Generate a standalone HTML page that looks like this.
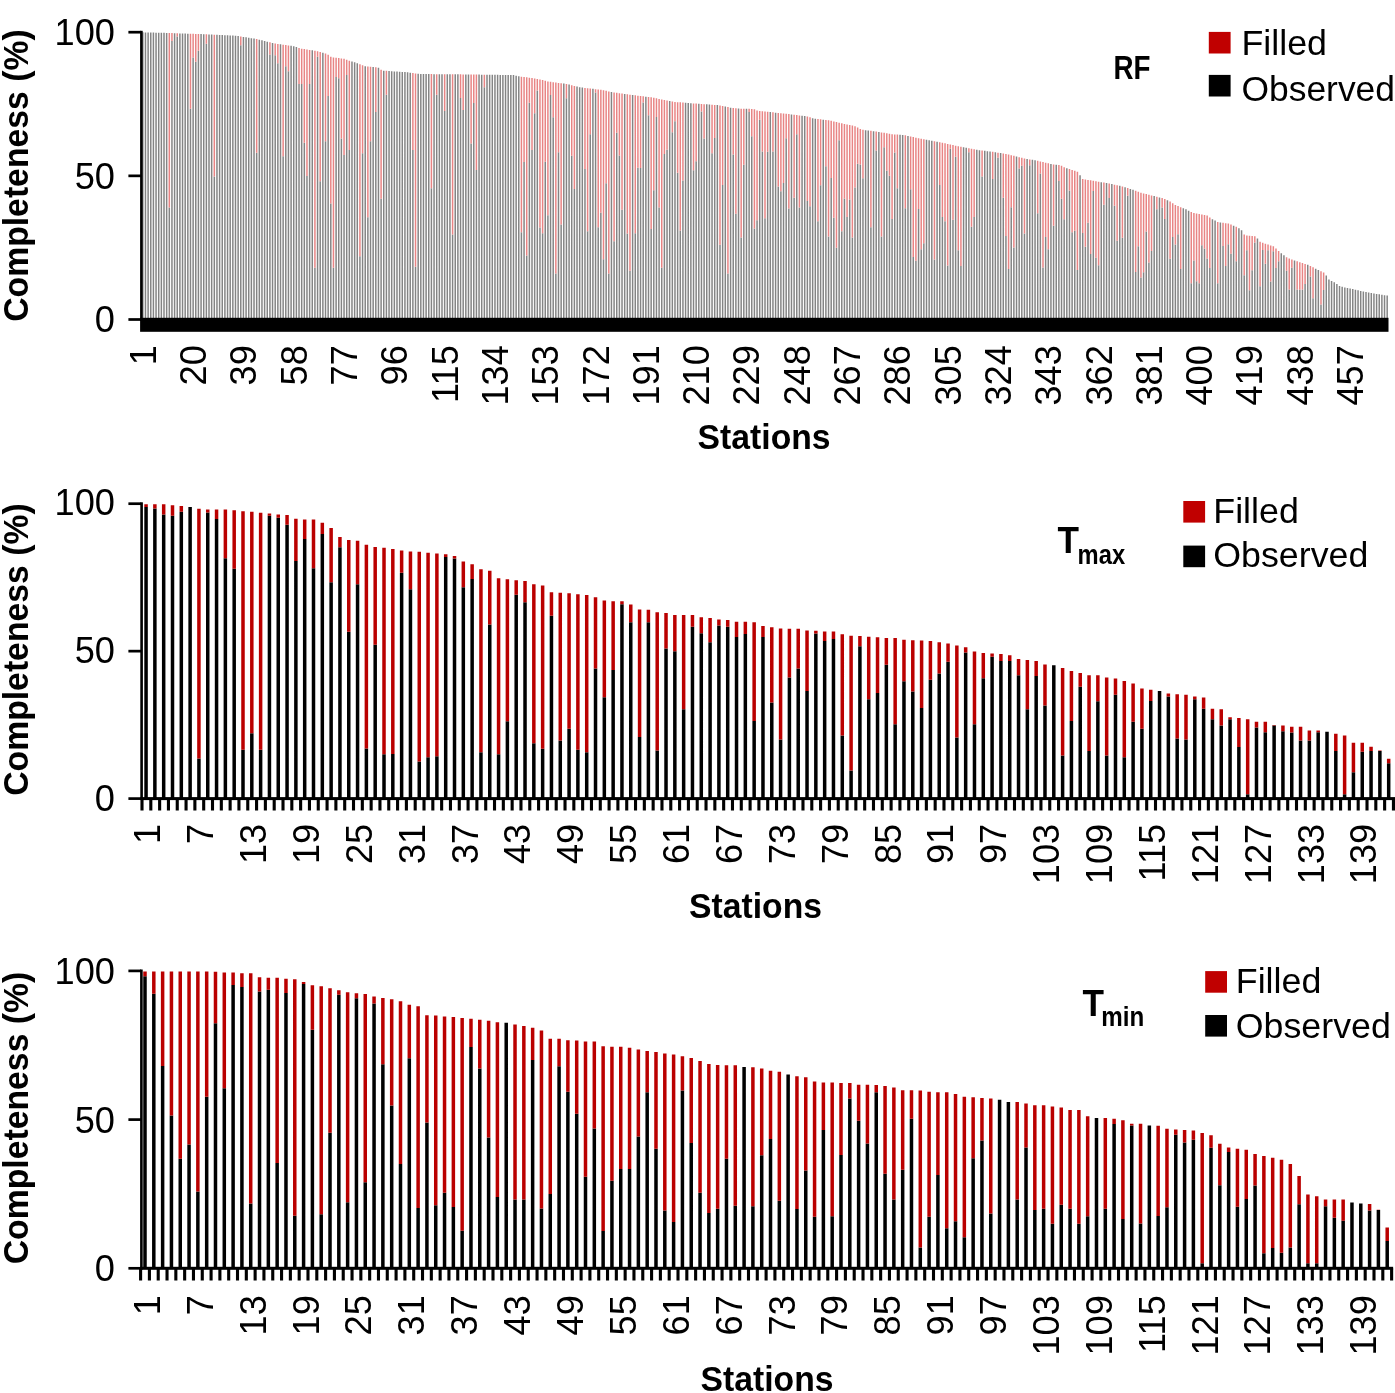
<!DOCTYPE html>
<html><head><meta charset="utf-8"><title>Completeness</title>
<style>
html,body{margin:0;padding:0;background:#fff;width:1395px;height:1393px;overflow:hidden;}
svg{display:block;}
text{font-family:"Liberation Sans",sans-serif;fill:#000;}
svg{will-change:transform;}
</style></head><body>
<svg width="1395" height="1393" viewBox="0 0 1395 1393">
<rect width="1395" height="1393" fill="#fff"/>
<g opacity="0.48">
<path fill="#000" d="M142.07 319.5H143.57V32.32H142.07zM144.72 319.5H146.22V32.38H144.72zM147.37 319.5H148.87V32.45H147.37zM150.02 319.5H151.52V32.51H150.02zM152.66 319.5H154.16V32.58H152.66zM155.31 319.5H156.81V32.64H155.31zM157.96 319.5H159.46V32.71H157.96zM160.61 319.5H162.11V32.78H160.61zM163.25 319.5H164.75V32.86H163.25zM165.9 319.5H167.4V32.94H165.9zM168.55 319.5H170.05V207.45H168.55zM171.2 319.5H172.7V40.89H171.2zM173.84 319.5H175.34V33.21H173.84zM176.49 319.5H177.99V36.61H176.49zM179.14 319.5H180.64V33.38H179.14zM181.79 319.5H183.29V33.47H181.79zM184.43 319.5H185.93V33.56H184.43zM187.08 319.5H188.58V33.64H187.08zM189.73 319.5H191.23V108.67H189.73zM192.38 319.5H193.88V57.5H192.38zM195.02 319.5H196.52V61.79H195.02zM197.67 319.5H199.17V50.64H197.67zM200.32 319.5H201.82V34.12H200.32zM202.97 319.5H204.47V34.23H202.97zM205.62 319.5H207.12V43.69H205.62zM208.26 319.5H209.76V34.45H208.26zM210.91 319.5H212.41V34.56H210.91zM213.56 319.5H215.06V176.42H213.56zM216.21 319.5H217.71V34.78H216.21zM218.85 319.5H220.35V34.89H218.85zM221.5 319.5H223V34.99H221.5zM224.15 319.5H225.65V35.13H224.15zM226.8 319.5H228.3V35.27H226.8zM229.44 319.5H230.94V35.41H229.44zM232.09 319.5H233.59V35.55H232.09zM234.74 319.5H236.24V35.69H234.74zM237.39 319.5H238.89V36.08H237.39zM240.03 319.5H241.53V45.27H240.03zM242.68 319.5H244.18V36.9H242.68zM245.33 319.5H246.83V37.31H245.33zM247.98 319.5H249.48V37.72H247.98zM250.62 319.5H252.12V38.13H250.62zM253.27 319.5H254.77V38.54H253.27zM255.92 319.5H257.42V152.8H255.92zM258.57 319.5H260.07V39.69H258.57zM261.21 319.5H262.71V40.35H261.21zM263.86 319.5H265.36V41H263.86zM266.51 319.5H268.01V41.69H266.51zM269.16 319.5H270.66V54.38H269.16zM271.8 319.5H273.3V43.06H271.8zM274.45 319.5H275.95V55.18H274.45zM277.1 319.5H278.6V63.22H277.1zM279.75 319.5H281.25V44.27H279.75zM282.39 319.5H283.89V156.31H282.39zM285.04 319.5H286.54V66.37H285.04zM287.69 319.5H289.19V71.32H287.69zM290.34 319.5H291.84V45.75H290.34zM292.98 319.5H294.48V46.15H292.98zM295.63 319.5H297.13V47.07H295.63zM298.28 319.5H299.78V83.91H298.28zM300.93 319.5H302.43V83.91H300.93zM303.57 319.5H305.07V142.63H303.57zM306.22 319.5H307.72V176.02H306.22zM308.87 319.5H310.37V83.91H308.87zM311.52 319.5H313.02V50.36H311.52zM314.17 319.5H315.67V267.79H314.17zM316.81 319.5H318.31V56.68H316.81zM319.46 319.5H320.96V181.2H319.46zM322.11 319.5H323.61V52.69H322.11zM324.76 319.5H326.26V141.37H324.76zM327.4 319.5H328.9V96.05H327.4zM330.05 319.5H331.55V203.39H330.05zM332.7 319.5H334.2V267.79H332.7zM335.35 319.5H336.85V77.01H335.35zM337.99 319.5H339.49V78.17H337.99zM340.64 319.5H342.14V138.5H340.64zM343.29 319.5H344.79V155.02H343.29zM345.94 319.5H347.44V75.02H345.94zM348.58 319.5H350.08V149.99H348.58zM351.23 319.5H352.73V61.53H351.23zM353.88 319.5H355.38V62.34H353.88zM356.53 319.5H358.03V63.14H356.53zM359.17 319.5H360.67V256.29H359.17zM361.82 319.5H363.32V153.15H361.82zM364.47 319.5H365.97V66.26H364.47zM367.12 319.5H368.62V217.18H367.12zM369.76 319.5H371.26V141.37H369.76zM372.41 319.5H373.91V66.92H372.41zM375.06 319.5H376.56V111.91H375.06zM377.71 319.5H379.21V67.78H377.71zM380.35 319.5H381.85V198.83H380.35zM383 319.5H384.5V70.69H383zM385.65 319.5H387.15V94.87H385.65zM388.3 319.5H389.8V71.04H388.3zM390.94 319.5H392.44V71.21H390.94zM393.59 319.5H395.09V71.39H393.59zM396.24 319.5H397.74V71.56H396.24zM398.89 319.5H400.39V71.73H398.89zM401.53 319.5H403.03V71.91H401.53zM404.18 319.5H405.68V72.08H404.18zM406.83 319.5H408.33V72.31H406.83zM409.48 319.5H410.98V72.66H409.48zM412.12 319.5H413.62V149.99H412.12zM414.77 319.5H416.27V266.64H414.77zM417.42 319.5H418.92V73.74H417.42zM420.07 319.5H421.57V74.01H420.07zM422.71 319.5H424.21V74.03H422.71zM425.36 319.5H426.86V74.05H425.36zM428.01 319.5H429.51V74.08H428.01zM430.66 319.5H432.16V188.31H430.66zM433.31 319.5H434.81V74.13H433.31zM435.95 319.5H437.45V94.79H435.95zM438.6 319.5H440.1V74.17H438.6zM441.25 319.5H442.75V74.2H441.25zM443.9 319.5H445.4V110.92H443.9zM446.54 319.5H448.04V74.24H446.54zM449.19 319.5H450.69V74.27H449.19zM451.84 319.5H453.34V234.46H451.84zM454.49 319.5H455.99V74.32H454.49zM457.13 319.5H458.63V74.34H457.13zM459.78 319.5H461.28V98.1H459.78zM462.43 319.5H463.93V109.9H462.43zM465.08 319.5H466.58V74.42H465.08zM467.72 319.5H469.22V74.46H467.72zM470.37 319.5H471.87V143.56H470.37zM473.02 319.5H474.52V102.88H473.02zM475.67 319.5H477.17V170.1H475.67zM478.31 319.5H479.81V74.61H478.31zM480.96 319.5H482.46V74.64H480.96zM483.61 319.5H485.11V87.13H483.61zM486.26 319.5H487.76V74.72H486.26zM488.9 319.5H490.4V74.76H488.9zM491.55 319.5H493.05V74.8H491.55zM494.2 319.5H495.7V74.83H494.2zM496.85 319.5H498.35V74.87H496.85zM499.49 319.5H500.99V74.91H499.49zM502.14 319.5H503.64V74.95H502.14zM504.79 319.5H506.29V74.98H504.79zM507.44 319.5H508.94V75.02H507.44zM510.08 319.5H511.58V75.06H510.08zM512.73 319.5H514.23V75.1H512.73zM515.38 319.5H516.88V75.73H515.38zM518.03 319.5H519.53V76.3H518.03zM520.67 319.5H522.17V232.16H520.67zM523.32 319.5H524.82V161.98H523.32zM525.97 319.5H527.47V255.43H525.97zM528.62 319.5H530.12V102.87H528.62zM531.26 319.5H532.76V149.99H531.26zM533.91 319.5H535.41V113.22H533.91zM536.56 319.5H538.06V90.49H536.56zM539.21 319.5H540.71V227.56H539.21zM541.86 319.5H543.36V233.31H541.86zM544.5 319.5H546V161.77H544.5zM547.15 319.5H548.65V215.21H547.15zM549.8 319.5H551.3V94.95H549.8zM552.45 319.5H553.95V117.23H552.45zM555.09 319.5H556.59V273.53H555.09zM557.74 319.5H559.24V152.25H557.74zM560.39 319.5H561.89V224.58H560.39zM563.04 319.5H564.54V83.61H563.04zM565.68 319.5H567.18V98.15H565.68zM568.33 319.5H569.83V84.59H568.33zM570.98 319.5H572.48V155.63H570.98zM573.63 319.5H575.13V189.03H573.63zM576.27 319.5H577.77V86.56H576.27zM578.92 319.5H580.42V87.22H578.92zM581.57 319.5H583.07V87.58H581.57zM584.22 319.5H585.72V168.99H584.22zM586.86 319.5H588.36V231.22H586.86zM589.51 319.5H591.01V134.21H589.51zM592.16 319.5H593.66V88.86H592.16zM594.81 319.5H596.31V92.52H594.81zM597.45 319.5H598.95V227.16H597.45zM600.1 319.5H601.6V212.68H600.1zM602.75 319.5H604.25V259.17H602.75zM605.4 319.5H606.9V183.14H605.4zM608.04 319.5H609.54V273.53H608.04zM610.69 319.5H612.19V91.98H610.69zM613.34 319.5H614.84V241.23H613.34zM615.99 319.5H617.49V132.81H615.99zM618.63 319.5H620.13V155.39H618.63zM621.28 319.5H622.78V209.82H621.28zM623.93 319.5H625.43V93.92H623.93zM626.58 319.5H628.08V233.57H626.58zM629.22 319.5H630.72V270.66H629.22zM631.87 319.5H633.37V94.98H631.87zM634.52 319.5H636.02V233.3H634.52zM637.17 319.5H638.67V167.84H637.17zM639.81 319.5H641.31V167.95H639.81zM642.46 319.5H643.96V102.4H642.46zM645.11 319.5H646.61V96.63H645.11zM647.76 319.5H649.26V115.22H647.76zM650.4 319.5H651.9V229.01H650.4zM653.05 319.5H654.55V190.18H653.05zM655.7 319.5H657.2V116.89H655.7zM658.35 319.5H659.85V207.55H658.35zM661 319.5H662.5V267.79H661zM663.64 319.5H665.14V154.02H663.64zM666.29 319.5H667.79V149.73H666.29zM668.94 319.5H670.44V101.03H668.94zM671.59 319.5H673.09V132.17H671.59zM674.23 319.5H675.73V121.13H674.23zM676.88 319.5H678.38V172.71H676.88zM679.53 319.5H681.03V230.44H679.53zM682.18 319.5H683.68V180.38H682.18zM684.82 319.5H686.32V102.77H684.82zM687.47 319.5H688.97V102.99H687.47zM690.12 319.5H691.62V103.2H690.12zM692.77 319.5H694.27V170.23H692.77zM695.41 319.5H696.91V161.23H695.41zM698.06 319.5H699.56V103.8H698.06zM700.71 319.5H702.21V111.61H700.71zM703.36 319.5H704.86V138.62H703.36zM706 319.5H707.5V104.34H706zM708.65 319.5H710.15V104.52H708.65zM711.3 319.5H712.8V153.14H711.3zM713.95 319.5H715.45V137.93H713.95zM716.59 319.5H718.09V105.06H716.59zM719.24 319.5H720.74V244.67H719.24zM721.89 319.5H723.39V184.98H721.89zM724.54 319.5H726.04V106.57H724.54zM727.18 319.5H728.68V273.53H727.18zM729.83 319.5H731.33V107.64H729.83zM732.48 319.5H733.98V154.51H732.48zM735.13 319.5H736.63V213.63H735.13zM737.77 319.5H739.27V108.41H737.77zM740.42 319.5H741.92V237.43H740.42zM743.07 319.5H744.57V164.82H743.07zM745.72 319.5H747.22V108.83H745.72zM748.36 319.5H749.86V111.99H748.36zM751.01 319.5H752.51V136.37H751.01zM753.66 319.5H755.16V228.52H753.66zM756.31 319.5H757.81V220.36H756.31zM758.95 319.5H760.45V119.77H758.95zM761.6 319.5H763.1V151.57H761.6zM764.25 319.5H765.75V218.19H764.25zM766.9 319.5H768.4V151.83H766.9zM769.55 319.5H771.05V112.06H769.55zM772.19 319.5H773.69V151.61H772.19zM774.84 319.5H776.34V112.63H774.84zM777.49 319.5H778.99V186.51H777.49zM780.14 319.5H781.64V191.28H780.14zM782.78 319.5H784.28V182.89H782.78zM785.43 319.5H786.93V138.15H785.43zM788.08 319.5H789.58V208.53H788.08zM790.73 319.5H792.23V114.44H790.73zM793.37 319.5H794.87V197.76H793.37zM796.02 319.5H797.52V134.31H796.02zM798.67 319.5H800.17V207.6H798.67zM801.32 319.5H802.82V115.73H801.32zM803.96 319.5H805.46V116.05H803.96zM806.61 319.5H808.11V200.96H806.61zM809.26 319.5H810.76V206.27H809.26zM811.91 319.5H813.41V118.25H811.91zM814.55 319.5H816.05V118.72H814.55zM817.2 319.5H818.7V221.2H817.2zM819.85 319.5H821.35V185.24H819.85zM822.5 319.5H824V119.64H822.5zM825.14 319.5H826.64V166.32H825.14zM827.79 319.5H829.29V236.52H827.79zM830.44 319.5H831.94V177.97H830.44zM833.09 319.5H834.59V217.82H833.09zM835.73 319.5H837.23V247.82H835.73zM838.38 319.5H839.88V140.16H838.38zM841.03 319.5H842.53V231.15H841.03zM843.68 319.5H845.18V198.61H843.68zM846.32 319.5H847.82V217.05H846.32zM848.97 319.5H850.47V199.41H848.97zM851.62 319.5H853.12V237.57H851.62zM854.27 319.5H855.77V187.43H854.27zM856.91 319.5H858.41V163.8H856.91zM859.56 319.5H861.06V164.44H859.56zM862.21 319.5H863.71V178.29H862.21zM864.86 319.5H866.36V130.17H864.86zM867.5 319.5H869V130.52H867.5zM870.15 319.5H871.65V227.26H870.15zM872.8 319.5H874.3V131.21H872.8zM875.45 319.5H876.95V150.54H875.45zM878.1 319.5H879.6V131.95H878.1zM880.74 319.5H882.24V236.5H880.74zM883.39 319.5H884.89V147.17H883.39zM886.04 319.5H887.54V170.69H886.04zM888.69 319.5H890.19V175.76H888.69zM891.33 319.5H892.83V219.11H891.33zM893.98 319.5H895.48V152.6H893.98zM896.63 319.5H898.13V188.33H896.63zM899.28 319.5H900.78V134.82H899.28zM901.92 319.5H903.42V135.03H901.92zM904.57 319.5H906.07V208.37H904.57zM907.22 319.5H908.72V135.91H907.22zM909.87 319.5H911.37V189.3H909.87zM912.51 319.5H914.01V257.05H912.51zM915.16 319.5H916.66V260.86H915.16zM917.81 319.5H919.31V209.11H917.81zM920.46 319.5H921.96V249.37H920.46zM923.1 319.5H924.6V243.37H923.1zM925.75 319.5H927.25V139.75H925.75zM928.4 319.5H929.9V140.26H928.4zM931.05 319.5H932.55V140.77H931.05zM933.69 319.5H935.19V259.41H933.69zM936.34 319.5H937.84V141.77H936.34zM938.99 319.5H940.49V185.01H938.99zM941.64 319.5H943.14V216.97H941.64zM944.28 319.5H945.78V221.21H944.28zM946.93 319.5H948.43V265.44H946.93zM949.58 319.5H951.08V148.73H949.58zM952.23 319.5H953.73V219.68H952.23zM954.87 319.5H956.37V156.69H954.87zM957.52 319.5H959.02V250.34H957.52zM960.17 319.5H961.67V266.07H960.17zM962.82 319.5H964.32V147.26H962.82zM965.46 319.5H966.96V147.8H965.46zM968.11 319.5H969.61V152.15H968.11zM970.76 319.5H972.26V226.84H970.76zM973.41 319.5H974.91V216.9H973.41zM976.05 319.5H977.55V149.71H976.05zM978.7 319.5H980.2V150.18H978.7zM981.35 319.5H982.85V176.43H981.35zM984 319.5H985.5V150.86H984zM986.64 319.5H988.14V151.18H986.64zM989.29 319.5H990.79V151.5H989.29zM991.94 319.5H993.44V178.99H991.94zM994.59 319.5H996.09V152.22H994.59zM997.24 319.5H998.74V157.82H997.24zM999.88 319.5H1001.38V153.09H999.88zM1002.53 319.5H1004.03V197.74H1002.53zM1005.18 319.5H1006.68V235.9H1005.18zM1007.83 319.5H1009.33V268.96H1007.83zM1010.47 319.5H1011.97V207.24H1010.47zM1013.12 319.5H1014.62V247.61H1013.12zM1015.77 319.5H1017.27V156.5H1015.77zM1018.42 319.5H1019.92V168.46H1018.42zM1021.06 319.5H1022.56V165.69H1021.06zM1023.71 319.5H1025.21V233.55H1023.71zM1026.36 319.5H1027.86V158.93H1026.36zM1029.01 319.5H1030.51V165.3H1029.01zM1031.65 319.5H1033.15V159.85H1031.65zM1034.3 319.5H1035.8V160.31H1034.3zM1036.95 319.5H1038.45V213.27H1036.95zM1039.6 319.5H1041.1V173.56H1039.6zM1042.24 319.5H1043.74V267.5H1042.24zM1044.89 319.5H1046.39V237.12H1044.89zM1047.54 319.5H1049.04V249.15H1047.54zM1050.19 319.5H1051.69V164.01H1050.19zM1052.83 319.5H1054.33V225.7H1052.83zM1055.48 319.5H1056.98V164.71H1055.48zM1058.13 319.5H1059.63V180.94H1058.13zM1060.78 319.5H1062.28V198.79H1060.78zM1063.42 319.5H1064.92V219.2H1063.42zM1066.07 319.5H1067.57V168.15H1066.07zM1068.72 319.5H1070.22V190.39H1068.72zM1071.37 319.5H1072.87V232.29H1071.37zM1074.01 319.5H1075.51V230.69H1074.01zM1076.66 319.5H1078.16V269.97H1076.66zM1079.31 319.5H1080.81V175.22H1079.31zM1081.96 319.5H1083.46V232.98H1081.96zM1084.6 319.5H1086.1V246.78H1084.6zM1087.25 319.5H1088.75V222.76H1087.25zM1089.9 319.5H1091.4V254.09H1089.9zM1092.55 319.5H1094.05V190.96H1092.55zM1095.19 319.5H1096.69V257.69H1095.19zM1097.84 319.5H1099.34V265.21H1097.84zM1100.49 319.5H1101.99V182.13H1100.49zM1103.14 319.5H1104.64V204.7H1103.14zM1105.79 319.5H1107.29V183.04H1105.79zM1108.43 319.5H1109.93V198.01H1108.43zM1111.08 319.5H1112.58V184.07H1111.08zM1113.73 319.5H1115.23V205.78H1113.73zM1116.38 319.5H1117.88V240.74H1116.38zM1119.02 319.5H1120.52V185.81H1119.02zM1121.67 319.5H1123.17V237.76H1121.67zM1124.32 319.5H1125.82V187.24H1124.32zM1126.97 319.5H1128.47V195.7H1126.97zM1129.61 319.5H1131.11V188.96H1129.61zM1132.26 319.5H1133.76V189.86H1132.26zM1134.91 319.5H1136.41V272H1134.91zM1137.56 319.5H1139.06V246.22H1137.56zM1140.2 319.5H1141.7V277.48H1140.2zM1142.85 319.5H1144.35V272.27H1142.85zM1145.5 319.5H1147V231.61H1145.5zM1148.15 319.5H1149.65V262.46H1148.15zM1150.79 319.5H1152.29V251.05H1150.79zM1153.44 319.5H1154.94V196.1H1153.44zM1156.09 319.5H1157.59V209.2H1156.09zM1158.74 319.5H1160.24V197.4H1158.74zM1161.38 319.5H1162.88V207.6H1161.38zM1164.03 319.5H1165.53V218.9H1164.03zM1166.68 319.5H1168.18V200.2H1166.68zM1169.33 319.5H1170.83V258.71H1169.33zM1171.97 319.5H1173.47V236.89H1171.97zM1174.62 319.5H1176.12V244.53H1174.62zM1177.27 319.5H1178.77V234.24H1177.27zM1179.92 319.5H1181.42V269.01H1179.92zM1182.56 319.5H1184.06V208.15H1182.56zM1185.21 319.5H1186.71V209.32H1185.21zM1187.86 319.5H1189.36V210.63H1187.86zM1190.51 319.5H1192.01V283.31H1190.51zM1193.15 319.5H1194.65V260.43H1193.15zM1195.8 319.5H1197.3V281.2H1195.8zM1198.45 319.5H1199.95V283.26H1198.45zM1201.1 319.5H1202.6V245.36H1201.1zM1203.74 319.5H1205.24V248.51H1203.74zM1206.39 319.5H1207.89V258.47H1206.39zM1209.04 319.5H1210.54V267.89H1209.04zM1211.69 319.5H1213.19V219.23H1211.69zM1214.33 319.5H1215.83V220.57H1214.33zM1216.98 319.5H1218.48V283.21H1216.98zM1219.63 319.5H1221.13V222.38H1219.63zM1222.28 319.5H1223.78V245.88H1222.28zM1224.93 319.5H1226.43V266.09H1224.93zM1227.57 319.5H1229.07V244.13H1227.57zM1230.22 319.5H1231.72V253.77H1230.22zM1232.87 319.5H1234.37V225.67H1232.87zM1235.52 319.5H1237.02V261.18H1235.52zM1238.16 319.5H1239.66V228.24H1238.16zM1240.81 319.5H1242.31V230.18H1240.81zM1243.46 319.5H1244.96V275.17H1243.46zM1246.11 319.5H1247.61V250.21H1246.11zM1248.75 319.5H1250.25V290.22H1248.75zM1251.4 319.5H1252.9V270.19H1251.4zM1254.05 319.5H1255.55V242.39H1254.05zM1256.7 319.5H1258.2V238.57H1256.7zM1259.34 319.5H1260.84V286.28H1259.34zM1261.99 319.5H1263.49V249.94H1261.99zM1264.64 319.5H1266.14V263.8H1264.64zM1267.29 319.5H1268.79V250.18H1267.29zM1269.93 319.5H1271.43V281.4H1269.93zM1272.58 319.5H1274.08V251.25H1272.58zM1275.23 319.5H1276.73V268.07H1275.23zM1277.88 319.5H1279.38V261.19H1277.88zM1280.52 319.5H1282.02V253.22H1280.52zM1283.17 319.5H1284.67V255.23H1283.17zM1285.82 319.5H1287.32V270.83H1285.82zM1288.47 319.5H1289.97V289.52H1288.47zM1291.11 319.5H1292.61V267.76H1291.11zM1293.76 319.5H1295.26V260.41H1293.76zM1296.41 319.5H1297.91V289.44H1296.41zM1299.06 319.5H1300.56V289.83H1299.06zM1301.7 319.5H1303.2V289.47H1301.7zM1304.35 319.5H1305.85V284.06H1304.35zM1307 319.5H1308.5V264.85H1307zM1309.65 319.5H1311.15V276.57H1309.65zM1312.29 319.5H1313.79V298.31H1312.29zM1314.94 319.5H1316.44V268.63H1314.94zM1317.59 319.5H1319.09V269.97H1317.59zM1320.24 319.5H1321.74V304.39H1320.24zM1322.88 319.5H1324.38V290.1H1322.88zM1325.53 319.5H1327.03V275.51H1325.53zM1328.18 319.5H1329.68V279.54H1328.18zM1330.83 319.5H1332.33V281.02H1330.83zM1333.48 319.5H1334.98V282.32H1333.48zM1336.12 319.5H1337.62V283.91H1336.12zM1338.77 319.5H1340.27V285.91H1338.77zM1341.42 319.5H1342.92V286.87H1341.42zM1344.07 319.5H1345.57V287.39H1344.07zM1346.71 319.5H1348.21V287.92H1346.71zM1349.36 319.5H1350.86V288.44H1349.36zM1352.01 319.5H1353.51V289.04H1352.01zM1354.66 319.5H1356.16V289.69H1354.66zM1357.3 319.5H1358.8V290.34H1357.3zM1359.95 319.5H1361.45V290.98H1359.95zM1362.6 319.5H1364.1V291.5H1362.6zM1365.25 319.5H1366.75V292.03H1365.25zM1367.89 319.5H1369.39V292.55H1367.89zM1370.54 319.5H1372.04V293.08H1370.54zM1373.19 319.5H1374.69V293.5H1373.19zM1375.84 319.5H1377.34V293.92H1375.84zM1378.48 319.5H1379.98V294.33H1378.48zM1381.13 319.5H1382.63V294.75H1381.13zM1383.78 319.5H1385.28V295.17H1383.78zM1386.43 319.5H1387.93V295.4H1386.43z"/>
<path fill="#D00000" d="M168.55 207.45H170.05V33.03H168.55zM171.2 40.89H172.7V33.12H171.2zM176.49 36.61H177.99V33.29H176.49zM189.73 108.67H191.23V33.73H189.73zM192.38 57.5H193.88V33.82H192.38zM195.02 61.79H196.52V33.91H195.02zM197.67 50.64H199.17V34.02H197.67zM205.62 43.69H207.12V34.34H205.62zM213.56 176.42H215.06V34.67H213.56zM240.03 45.27H241.53V36.49H240.03zM255.92 152.8H257.42V39.04H255.92zM269.16 54.38H270.66V42.37H269.16zM274.45 55.18H275.95V43.54H274.45zM277.1 63.22H278.6V43.91H277.1zM282.39 156.31H283.89V44.64H282.39zM285.04 66.37H286.54V45.01H285.04zM287.69 71.32H289.19V45.38H287.69zM298.28 83.91H299.78V47.99H298.28zM300.93 83.91H302.43V48.64H300.93zM303.57 142.63H305.07V49.07H303.57zM306.22 176.02H307.72V49.5H306.22zM308.87 83.91H310.37V49.93H308.87zM314.17 267.79H315.67V50.78H314.17zM316.81 56.68H318.31V51.21H316.81zM319.46 181.2H320.96V51.92H319.46zM324.76 141.37H326.26V53.46H324.76zM327.4 96.05H328.9V54.79H327.4zM330.05 203.39H331.55V56.84H330.05zM332.7 267.79H334.2V57.53H332.7zM335.35 77.01H336.85V57.83H335.35zM337.99 78.17H339.49V58.12H337.99zM340.64 138.5H342.14V58.42H340.64zM343.29 155.02H344.79V58.71H343.29zM345.94 75.02H347.44V59.63H345.94zM348.58 149.99H350.08V60.73H348.58zM359.17 256.29H360.67V64.22H359.17zM361.82 153.15H363.32V65.37H361.82zM367.12 217.18H368.62V66.48H367.12zM369.76 141.37H371.26V66.7H369.76zM375.06 111.91H376.56V67.14H375.06zM380.35 198.83H381.85V69.72H380.35zM385.65 94.87H387.15V70.87H385.65zM412.12 149.99H413.62V73.02H412.12zM414.77 266.64H416.27V73.38H414.77zM430.66 188.31H432.16V74.1H430.66zM435.95 94.79H437.45V74.15H435.95zM443.9 110.92H445.4V74.22H443.9zM451.84 234.46H453.34V74.29H451.84zM459.78 98.1H461.28V74.36H459.78zM462.43 109.9H463.93V74.39H462.43zM470.37 143.56H471.87V74.49H470.37zM473.02 102.88H474.52V74.53H473.02zM475.67 170.1H477.17V74.57H475.67zM483.61 87.13H485.11V74.68H483.61zM520.67 232.16H522.17V76.66H520.67zM523.32 161.98H524.82V77.02H523.32zM525.97 255.43H527.47V77.37H525.97zM528.62 102.87H530.12V77.73H528.62zM531.26 149.99H532.76V78.11H531.26zM533.91 113.22H535.41V78.56H533.91zM536.56 90.49H538.06V79.02H536.56zM539.21 227.56H540.71V79.48H539.21zM541.86 233.31H543.36V79.93H541.86zM544.5 161.77H546V80.79H544.5zM547.15 215.21H548.65V81.46H547.15zM549.8 94.95H551.3V81.82H549.8zM552.45 117.23H553.95V82.18H552.45zM555.09 273.53H556.59V82.53H555.09zM557.74 152.25H559.24V82.89H557.74zM560.39 224.58H561.89V83.25H560.39zM565.68 98.15H567.18V83.96H565.68zM570.98 155.63H572.48V85.25H570.98zM573.63 189.03H575.13V85.9H573.63zM584.22 168.99H585.72V87.9H584.22zM586.86 231.22H588.36V88.22H586.86zM589.51 134.21H591.01V88.54H589.51zM594.81 92.52H596.31V89.18H594.81zM597.45 227.16H598.95V89.5H597.45zM600.1 212.68H601.6V89.82H600.1zM602.75 259.17H604.25V90.26H602.75zM605.4 183.14H606.9V90.83H605.4zM608.04 273.53H609.54V91.4H608.04zM613.34 241.23H614.84V92.49H613.34zM615.99 132.81H617.49V92.85H615.99zM618.63 155.39H620.13V93.2H618.63zM621.28 209.82H622.78V93.56H621.28zM626.58 233.57H628.08V94.27H626.58zM629.22 270.66H630.72V94.63H629.22zM634.52 233.3H636.02V95.32H634.52zM637.17 167.84H638.67V95.65H637.17zM639.81 167.95H641.31V95.97H639.81zM642.46 102.4H643.96V96.3H642.46zM647.76 115.22H649.26V96.95H647.76zM650.4 229.01H651.9V97.28H650.4zM653.05 190.18H654.55V97.81H653.05zM655.7 116.89H657.2V98.34H655.7zM658.35 207.55H659.85V98.88H658.35zM661 267.79H662.5V99.42H661zM663.64 154.02H665.14V99.95H663.64zM666.29 149.73H667.79V100.49H666.29zM671.59 132.17H673.09V101.56H671.59zM674.23 121.13H675.73V101.92H674.23zM676.88 172.71H678.38V102.13H676.88zM679.53 230.44H681.03V102.35H679.53zM682.18 180.38H683.68V102.56H682.18zM692.77 170.23H694.27V103.42H692.77zM695.41 161.23H696.91V103.62H695.41zM700.71 111.61H702.21V103.98H700.71zM703.36 138.62H704.86V104.16H703.36zM711.3 153.14H712.8V104.7H711.3zM713.95 137.93H715.45V104.88H713.95zM719.24 244.67H720.74V105.5H719.24zM721.89 184.98H723.39V106.03H721.89zM727.18 273.53H728.68V107.1H727.18zM732.48 154.51H733.98V107.96H732.48zM735.13 213.63H736.63V108.19H735.13zM740.42 237.43H741.92V108.64H740.42zM743.07 164.82H744.57V108.81H743.07zM748.36 111.99H749.86V108.86H748.36zM751.01 136.37H752.51V108.88H751.01zM753.66 228.52H755.16V109.31H753.66zM756.31 220.36H757.81V110.4H756.31zM758.95 119.77H760.45V110.91H758.95zM761.6 151.57H763.1V111.19H761.6zM764.25 218.19H765.75V111.48H764.25zM766.9 151.83H768.4V111.77H766.9zM772.19 151.61H773.69V112.34H772.19zM777.49 186.51H778.99V112.92H777.49zM780.14 191.28H781.64V113.21H780.14zM782.78 182.89H784.28V113.49H782.78zM785.43 138.15H786.93V113.8H785.43zM788.08 208.53H789.58V114.12H788.08zM793.37 197.76H794.87V114.77H793.37zM796.02 134.31H797.52V115.09H796.02zM798.67 207.6H800.17V115.41H798.67zM806.61 200.96H808.11V116.49H806.61zM809.26 206.27H810.76V117.37H809.26zM817.2 221.2H818.7V119.03H817.2zM819.85 185.24H821.35V119.33H819.85zM825.14 166.32H826.64V119.94H825.14zM827.79 236.52H829.29V120.25H827.79zM830.44 177.97H831.94V120.79H830.44zM833.09 217.82H834.59V121.38H833.09zM835.73 247.82H837.23V121.99H835.73zM838.38 140.16H839.88V122.65H838.38zM841.03 231.15H842.53V123.3H841.03zM843.68 198.61H845.18V123.96H843.68zM846.32 217.05H847.82V124.51H846.32zM848.97 199.41H850.47V125.06H848.97zM851.62 237.57H853.12V125.61H851.62zM854.27 187.43H855.77V126.16H854.27zM856.91 163.8H858.41V127.46H856.91zM859.56 164.44H861.06V129.02H859.56zM862.21 178.29H863.71V129.82H862.21zM870.15 227.26H871.65V130.86H870.15zM875.45 150.54H876.95V131.56H875.45zM880.74 236.5H882.24V132.4H880.74zM883.39 147.17H884.89V132.86H883.39zM886.04 170.69H887.54V133.32H886.04zM888.69 175.76H890.19V133.78H888.69zM891.33 219.11H892.83V134.16H891.33zM893.98 152.6H895.48V134.38H893.98zM896.63 188.33H898.13V134.6H896.63zM904.57 208.37H906.07V135.34H904.57zM909.87 189.3H911.37V136.49H909.87zM912.51 257.05H914.01V137.07H912.51zM915.16 260.86H916.66V137.64H915.16zM917.81 209.11H919.31V138.21H917.81zM920.46 249.37H921.96V138.72H920.46zM923.1 243.37H924.6V139.24H923.1zM933.69 259.41H935.19V141.27H933.69zM938.99 185.01H940.49V142.27H938.99zM941.64 216.97H943.14V142.78H941.64zM944.28 221.21H945.78V143.37H944.28zM946.93 265.44H948.43V143.95H946.93zM949.58 148.73H951.08V144.53H949.58zM952.23 219.68H953.73V145.11H952.23zM954.87 156.69H956.37V145.65H954.87zM957.52 250.34H959.02V146.19H957.52zM960.17 266.07H961.67V146.73H960.17zM968.11 152.15H969.61V148.29H968.11zM970.76 226.84H972.26V148.76H970.76zM973.41 216.9H974.91V149.24H973.41zM981.35 176.43H982.85V150.54H981.35zM991.94 178.99H993.44V151.81H991.94zM997.24 157.82H998.74V152.65H997.24zM1002.53 197.74H1004.03V153.52H1002.53zM1005.18 235.9H1006.68V153.96H1005.18zM1007.83 268.96H1009.33V154.54H1007.83zM1010.47 207.24H1011.97V155.19H1010.47zM1013.12 247.61H1014.62V155.85H1013.12zM1018.42 168.46H1019.92V157.16H1018.42zM1021.06 165.69H1022.56V157.81H1021.06zM1023.71 233.55H1025.21V158.47H1023.71zM1029.01 165.3H1030.51V159.39H1029.01zM1036.95 213.27H1038.45V160.77H1036.95zM1039.6 173.56H1041.1V161.4H1039.6zM1042.24 267.5H1043.74V162.05H1042.24zM1044.89 237.12H1046.39V162.71H1044.89zM1047.54 249.15H1049.04V163.36H1047.54zM1052.83 225.7H1054.33V164.38H1052.83zM1058.13 180.94H1059.63V165.04H1058.13zM1060.78 198.79H1062.28V165.86H1060.78zM1063.42 219.2H1064.92V167.19H1063.42zM1068.72 190.39H1070.22V169.04H1068.72zM1071.37 232.29H1072.87V169.92H1071.37zM1074.01 230.69H1075.51V170.81H1074.01zM1076.66 269.97H1078.16V171.7H1076.66zM1081.96 232.98H1083.46V179.05H1081.96zM1084.6 246.78H1086.1V179.49H1084.6zM1087.25 222.76H1088.75V179.92H1087.25zM1089.9 254.09H1091.4V180.35H1089.9zM1092.55 190.96H1094.05V180.79H1092.55zM1095.19 257.69H1096.69V181.22H1095.19zM1097.84 265.21H1099.34V181.68H1097.84zM1103.14 204.7H1104.64V182.59H1103.14zM1108.43 198.01H1109.93V183.5H1108.43zM1113.73 205.78H1115.23V184.65H1113.73zM1116.38 240.74H1117.88V185.23H1116.38zM1121.67 237.76H1123.17V186.38H1121.67zM1126.97 195.7H1128.47V188.1H1126.97zM1134.91 272H1136.41V190.79H1134.91zM1137.56 246.22H1139.06V191.71H1137.56zM1140.2 277.48H1141.7V192.63H1140.2zM1142.85 272.27H1144.35V193.41H1142.85zM1145.5 231.61H1147V194.08H1145.5zM1148.15 262.46H1149.65V194.75H1148.15zM1150.79 251.05H1152.29V195.43H1150.79zM1156.09 209.2H1157.59V196.75H1156.09zM1161.38 207.6H1162.88V198.06H1161.38zM1164.03 218.9H1165.53V199.12H1164.03zM1169.33 258.71H1170.83V201.57H1169.33zM1171.97 236.89H1173.47V203.31H1171.97zM1174.62 244.53H1176.12V205.05H1174.62zM1177.27 234.24H1178.77V206.12H1177.27zM1179.92 269.01H1181.42V207.14H1179.92zM1190.51 283.31H1192.01V211.94H1190.51zM1193.15 260.43H1194.65V213.09H1193.15zM1195.8 281.2H1197.3V213.54H1195.8zM1198.45 283.26H1199.95V214H1198.45zM1201.1 245.36H1202.6V214.45H1201.1zM1203.74 248.51H1205.24V214.9H1203.74zM1206.39 258.47H1207.89V215.56H1206.39zM1209.04 267.89H1210.54V217.54H1209.04zM1216.98 283.21H1218.48V221.91H1216.98zM1222.28 245.88H1223.78V222.79H1222.28zM1224.93 266.09H1226.43V223.19H1224.93zM1227.57 244.13H1229.07V223.6H1227.57zM1230.22 253.77H1231.72V224.54H1230.22zM1235.52 261.18H1237.02V226.8H1235.52zM1243.46 275.17H1244.96V234.5H1243.46zM1246.11 250.21H1247.61V235.52H1246.11zM1248.75 290.22H1250.25V235.79H1248.75zM1251.4 270.19H1252.9V236.05H1251.4zM1254.05 242.39H1255.55V236.31H1254.05zM1259.34 286.28H1260.84V241.87H1259.34zM1261.99 249.94H1263.49V242.84H1261.99zM1264.64 263.8H1266.14V243.72H1264.64zM1267.29 250.18H1268.79V244.59H1267.29zM1269.93 281.4H1271.43V245.47H1269.93zM1272.58 251.25H1274.08V246.34H1272.58zM1275.23 268.07H1276.73V248.62H1275.23zM1277.88 261.19H1279.38V250.99H1277.88zM1285.82 270.83H1287.32V257.25H1285.82zM1288.47 289.52H1289.97V258.38H1288.47zM1291.11 267.76H1292.61V259.4H1291.11zM1296.41 289.44H1297.91V261.35H1296.41zM1299.06 289.83H1300.56V262.23H1299.06zM1301.7 289.47H1303.2V263.1H1301.7zM1304.35 284.06H1305.85V263.98H1304.35zM1309.65 276.57H1311.15V265.96H1309.65zM1312.29 298.31H1313.79V267.29H1312.29zM1320.24 304.39H1321.74V271.27H1320.24zM1322.88 290.1H1324.38V272.58H1322.88z"/>
</g>
<rect x="140.1" y="30.8" width="2.6" height="290.1" fill="#000"/>
<rect x="128.4" y="30.85" width="12.7" height="2.7" fill="#000"/>
<rect x="128.4" y="174.5" width="12.7" height="2.7" fill="#000"/>
<rect x="128.4" y="318.15" width="12.7" height="2.7" fill="#000"/>
<rect x="140.1" y="317.8" width="1248.4" height="14" fill="#000"/>
<text x="114.9" y="45.1" font-size="36.2" font-weight="normal" text-anchor="end">100</text>
<text x="114.9" y="188.75" font-size="36.2" font-weight="normal" text-anchor="end">50</text>
<text x="114.9" y="332.4" font-size="36.2" font-weight="normal" text-anchor="end">0</text>
<text transform="translate(27.6 175.6) rotate(-90)" font-size="35.5" font-weight="bold" text-anchor="middle" textLength="292.5" lengthAdjust="spacingAndGlyphs">Completeness (%)</text>
<text transform="translate(155.78 345.2) rotate(-90)" font-size="36.2" text-anchor="end">1</text>
<text transform="translate(206.09 345.2) rotate(-90)" font-size="36.2" text-anchor="end">20</text>
<text transform="translate(256.39 345.2) rotate(-90)" font-size="36.2" text-anchor="end">39</text>
<text transform="translate(306.69 345.2) rotate(-90)" font-size="36.2" text-anchor="end">58</text>
<text transform="translate(357 345.2) rotate(-90)" font-size="36.2" text-anchor="end">77</text>
<text transform="translate(407.3 345.2) rotate(-90)" font-size="36.2" text-anchor="end">96</text>
<text transform="translate(457.61 345.2) rotate(-90)" font-size="36.2" text-anchor="end">115</text>
<text transform="translate(507.91 345.2) rotate(-90)" font-size="36.2" text-anchor="end">134</text>
<text transform="translate(558.21 345.2) rotate(-90)" font-size="36.2" text-anchor="end">153</text>
<text transform="translate(608.52 345.2) rotate(-90)" font-size="36.2" text-anchor="end">172</text>
<text transform="translate(658.82 345.2) rotate(-90)" font-size="36.2" text-anchor="end">191</text>
<text transform="translate(709.12 345.2) rotate(-90)" font-size="36.2" text-anchor="end">210</text>
<text transform="translate(759.43 345.2) rotate(-90)" font-size="36.2" text-anchor="end">229</text>
<text transform="translate(809.73 345.2) rotate(-90)" font-size="36.2" text-anchor="end">248</text>
<text transform="translate(860.03 345.2) rotate(-90)" font-size="36.2" text-anchor="end">267</text>
<text transform="translate(910.34 345.2) rotate(-90)" font-size="36.2" text-anchor="end">286</text>
<text transform="translate(960.64 345.2) rotate(-90)" font-size="36.2" text-anchor="end">305</text>
<text transform="translate(1010.94 345.2) rotate(-90)" font-size="36.2" text-anchor="end">324</text>
<text transform="translate(1061.25 345.2) rotate(-90)" font-size="36.2" text-anchor="end">343</text>
<text transform="translate(1111.55 345.2) rotate(-90)" font-size="36.2" text-anchor="end">362</text>
<text transform="translate(1161.86 345.2) rotate(-90)" font-size="36.2" text-anchor="end">381</text>
<text transform="translate(1212.16 345.2) rotate(-90)" font-size="36.2" text-anchor="end">400</text>
<text transform="translate(1262.46 345.2) rotate(-90)" font-size="36.2" text-anchor="end">419</text>
<text transform="translate(1312.77 345.2) rotate(-90)" font-size="36.2" text-anchor="end">438</text>
<text transform="translate(1363.07 345.2) rotate(-90)" font-size="36.2" text-anchor="end">457</text>
<text x="764.1" y="449.2" font-size="35" font-weight="bold" text-anchor="middle" textLength="133" lengthAdjust="spacingAndGlyphs">Stations</text>
<text x="1113.4" y="79.4" font-size="33.5" font-weight="bold" text-anchor="start" textLength="37" lengthAdjust="spacingAndGlyphs">RF</text>
<rect x="1208.8" y="31.9" width="21.8" height="21.6" fill="#C00000"/>
<rect x="1208.8" y="74.9" width="21.8" height="21.6" fill="#000"/>
<text x="1241.5" y="54.7" font-size="34.5" font-weight="normal" text-anchor="start" textLength="85.5" lengthAdjust="spacingAndGlyphs">Filled</text>
<text x="1241.5" y="100.6" font-size="34.5" font-weight="normal" text-anchor="start" textLength="153.5" lengthAdjust="spacingAndGlyphs">Observed</text>
<path fill="#000" d="M144.31 798.6H147.81V506.94H144.31zM153.12 798.6H156.62V508.42H153.12zM161.93 798.6H165.43V514.61H161.93zM170.75 798.6H174.25V515.79H170.75zM179.56 798.6H183.06V511.66H179.56zM188.37 798.6H191.87V506.94H188.37zM197.18 798.6H200.68V758.49H197.18zM206 798.6H209.5V512.55H206zM214.81 798.6H218.31V519.03H214.81zM223.62 798.6H227.12V558.26H223.62zM232.44 798.6H235.94V568.87H232.44zM241.25 798.6H244.75V749.65H241.25zM250.06 798.6H253.56V733.13H250.06zM258.88 798.6H262.38V749.65H258.88zM267.69 798.6H271.19V515.79H267.69zM276.5 798.6H280V517.86H276.5zM285.31 798.6H288.81V524.64H285.31zM294.13 798.6H297.63V560.91H294.13zM302.94 798.6H306.44V539.09H302.94zM311.75 798.6H315.25V568.28H311.75zM320.57 798.6H324.07V534.07H320.57zM329.38 798.6H332.88V582.14H329.38zM338.19 798.6H341.69V547.35H338.19zM347.01 798.6H350.51V631.69H347.01zM355.82 798.6H359.32V584.21H355.82zM364.63 798.6H368.13V748.47H364.63zM373.44 798.6H376.94V644.66H373.44zM382.26 798.6H385.76V754.37H382.26zM391.07 798.6H394.57V754.07H391.07zM399.88 798.6H403.38V572.71H399.88zM408.7 798.6H412.2V589.22H408.7zM417.51 798.6H421.01V761.44H417.51zM426.32 798.6H429.82V757.31H426.32zM435.14 798.6H438.64V756.13H435.14zM443.95 798.6H447.45V557.08H443.95zM452.76 798.6H456.26V558.55H452.76zM461.57 798.6H465.07V587.16H461.57zM470.39 798.6H473.89V578.9H470.39zM479.2 798.6H482.7V752.3H479.2zM488.01 798.6H491.51V624.61H488.01zM496.83 798.6H500.33V754.37H496.83zM505.64 798.6H509.14V721.34H505.64zM514.45 798.6H517.95V594.82H514.45zM523.27 798.6H526.77V602.2H523.27zM532.08 798.6H535.58V743.16H532.08zM540.89 798.6H544.39V748.76H540.89zM549.7 798.6H553.2V615.76H549.7zM558.52 798.6H562.02V740.5H558.52zM567.33 798.6H570.83V728.71H567.33zM576.14 798.6H579.64V749.65H576.14zM584.96 798.6H588.46V752.3H584.96zM593.77 798.6H597.27V668.55H593.77zM602.58 798.6H606.08V697.15H602.58zM611.4 798.6H614.9V670.02H611.4zM620.21 798.6H623.71V604.26H620.21zM629.02 798.6H632.52V622.25H629.02zM637.83 798.6H641.33V736.97H637.83zM646.65 798.6H650.15V622.25H646.65zM655.46 798.6H658.96V750.53H655.46zM664.27 798.6H667.77V648.5H664.27zM673.09 798.6H676.59V651.15H673.09zM681.9 798.6H685.4V709.25H681.9zM690.71 798.6H694.21V626.67H690.71zM699.53 798.6H703.03V633.16H699.53zM708.34 798.6H711.84V642.3H708.34zM717.15 798.6H720.65V625.49H717.15zM725.96 798.6H729.46V626.67H725.96zM734.78 798.6H738.28V636.99H734.78zM743.59 798.6H747.09V634.05H743.59zM752.4 798.6H755.9V721.04H752.4zM761.22 798.6H764.72V636.99H761.22zM770.03 798.6H773.53V702.46H770.03zM778.84 798.6H782.34V739.62H778.84zM787.66 798.6H791.16V677.4H787.66zM796.47 798.6H799.97V668.55H796.47zM805.28 798.6H808.78V690.96H805.28zM814.09 798.6H817.59V633.46H814.09zM822.91 798.6H826.41V641.12H822.91zM831.72 798.6H835.22V639.06H831.72zM840.53 798.6H844.03V735.49H840.53zM849.35 798.6H852.85V770.58H849.35zM858.16 798.6H861.66V646.14H858.16zM866.97 798.6H870.47V699.22H866.97zM875.79 798.6H879.29V693.03H875.79zM884.6 798.6H888.1V664.72H884.6zM893.41 798.6H896.91V724.29H893.41zM902.22 798.6H905.72V681.23H902.22zM911.04 798.6H914.54V691.55H911.04zM919.85 798.6H923.35V708.07H919.85zM928.66 798.6H932.16V679.76H928.66zM937.48 798.6H940.98V673.56H937.48zM946.29 798.6H949.79V661.77H946.29zM955.1 798.6H958.6V737.56H955.1zM963.92 798.6H967.42V652.62H963.92zM972.73 798.6H976.23V724.29H972.73zM981.54 798.6H985.04V678.28H981.54zM990.35 798.6H993.85V656.75H990.35zM999.17 798.6H1002.67V660.88H999.17zM1007.98 798.6H1011.48V660.88H1007.98zM1016.79 798.6H1020.29V675.33H1016.79zM1025.61 798.6H1029.11V709.25H1025.61zM1034.42 798.6H1037.92V675.92H1034.42zM1043.23 798.6H1046.73V705.41H1043.23zM1052.05 798.6H1055.55V665.31H1052.05zM1060.86 798.6H1064.36V755.54H1060.86zM1069.67 798.6H1073.17V721.04H1069.67zM1078.48 798.6H1081.98V686.83H1078.48zM1087.3 798.6H1090.8V751.12H1087.3zM1096.11 798.6H1099.61V701.28H1096.11zM1104.92 798.6H1108.42V755.54H1104.92zM1113.74 798.6H1117.24V694.8H1113.74zM1122.55 798.6H1126.05V757.31H1122.55zM1131.36 798.6H1134.86V721.63H1131.36zM1140.18 798.6H1143.68V728.71H1140.18zM1148.99 798.6H1152.49V700.99H1148.99zM1157.8 798.6H1161.3V690.96H1157.8zM1166.61 798.6H1170.11V696.56H1166.61zM1175.43 798.6H1178.93V738.44H1175.43zM1184.24 798.6H1187.74V739.62H1184.24zM1193.05 798.6H1196.55V699.22H1193.05zM1201.87 798.6H1205.37V708.66H1201.87zM1210.68 798.6H1214.18V719.27H1210.68zM1219.49 798.6H1222.99V725.46H1219.49zM1228.31 798.6H1231.81V719.27H1228.31zM1237.12 798.6H1240.62V746.99H1237.12zM1245.93 798.6H1249.43V794.18H1245.93zM1254.74 798.6H1258.24V727.53H1254.74zM1263.56 798.6H1267.06V732.25H1263.56zM1272.37 798.6H1275.87V725.46H1272.37zM1281.18 798.6H1284.68V731.36H1281.18zM1290 798.6H1293.5V732.54H1290zM1298.81 798.6H1302.31V740.5H1298.81zM1307.62 798.6H1311.12V740.5H1307.62zM1316.44 798.6H1319.94V732.25H1316.44zM1325.25 798.6H1328.75V731.66H1325.25zM1334.06 798.6H1337.56V751.12H1334.06zM1342.87 798.6H1346.37V794.18H1342.87zM1351.69 798.6H1355.19V772.35H1351.69zM1360.5 798.6H1364V751.71H1360.5zM1369.31 798.6H1372.81V751.12H1369.31zM1378.13 798.6H1381.63V751.12H1378.13zM1386.94 798.6H1390.44V763.21H1386.94z"/>
<path fill="#BA0000" d="M144.31 506.94H147.81V504.29H144.31zM153.12 508.42H156.62V504.29H153.12zM161.93 514.61H165.43V504.29H161.93zM170.75 515.79H174.25V505.17H170.75zM179.56 511.66H183.06V506.06H179.56zM197.18 758.49H200.68V508.71H197.18zM206 512.55H209.5V509.6H206zM214.81 519.03H218.31V509.6H214.81zM223.62 558.26H227.12V509.6H223.62zM232.44 568.87H235.94V510.19H232.44zM241.25 749.65H244.75V511.37H241.25zM250.06 733.13H253.56V511.66H250.06zM258.88 749.65H262.38V512.84H258.88zM267.69 515.79H271.19V513.43H267.69zM276.5 517.86H280V514.61H276.5zM285.31 524.64H288.81V514.91H285.31zM294.13 560.91H297.63V518.74H294.13zM302.94 539.09H306.44V519.62H302.94zM311.75 568.28H315.25V519.62H311.75zM320.57 534.07H324.07V522.87H320.57zM329.38 582.14H332.88V527.88H329.38zM338.19 547.35H341.69V537.02H338.19zM347.01 631.69H350.51V539.97H347.01zM355.82 584.21H359.32V540.86H355.82zM364.63 748.47H368.13V544.69H364.63zM373.44 644.66H376.94V547.05H373.44zM382.26 754.37H385.76V547.64H382.26zM391.07 754.07H394.57V549.11H391.07zM399.88 572.71H403.38V550.59H399.88zM408.7 589.22H412.2V551.47H408.7zM417.51 761.44H421.01V551.77H417.51zM426.32 757.31H429.82V552.65H426.32zM435.14 756.13H438.64V553.54H435.14zM443.95 557.08H447.45V554.13H443.95zM452.76 558.55H456.26V555.9H452.76zM461.57 587.16H465.07V561.5H461.57zM470.39 578.9H473.89V564.15H470.39zM479.2 752.3H482.7V569.17H479.2zM488.01 624.61H491.51V570.64H488.01zM496.83 754.37H500.33V578.31H496.83zM505.64 721.34H509.14V579.19H505.64zM514.45 594.82H517.95V580.37H514.45zM523.27 602.2H526.77V580.96H523.27zM532.08 743.16H535.58V584.21H532.08zM540.89 748.76H544.39V585.39H540.89zM549.7 615.76H553.2V592.17H549.7zM558.52 740.5H562.02V592.76H558.52zM567.33 728.71H570.83V593.35H567.33zM576.14 749.65H579.64V594.23H576.14zM584.96 752.3H588.46V595.12H584.96zM593.77 668.55H597.27V597.18H593.77zM602.58 697.15H606.08V600.43H602.58zM611.4 670.02H614.9V601.31H611.4zM620.21 604.26H623.71V601.31H620.21zM629.02 622.25H632.52V604.56H629.02zM637.83 736.97H641.33V609.57H637.83zM646.65 622.25H650.15V609.86H646.65zM655.46 750.53H658.96V612.22H655.46zM664.27 648.5H667.77V613.11H664.27zM673.09 651.15H676.59V614.88H673.09zM681.9 709.25H685.4V614.88H681.9zM690.71 626.67H694.21V614.88H690.71zM699.53 633.16H703.03V617.24H699.53zM708.34 642.3H711.84V618.12H708.34zM717.15 625.49H720.65V619.6H717.15zM725.96 626.67H729.46V619.89H725.96zM734.78 636.99H738.28V621.66H734.78zM743.59 634.05H747.09V621.66H743.59zM752.4 721.04H755.9V622.25H752.4zM761.22 636.99H764.72V626.08H761.22zM770.03 702.46H773.53V627.26H770.03zM778.84 739.62H782.34V628.44H778.84zM787.66 677.4H791.16V628.74H787.66zM796.47 668.55H799.97V628.74H796.47zM805.28 690.96H808.78V630.51H805.28zM814.09 633.46H817.59V630.8H814.09zM822.91 641.12H826.41V631.39H822.91zM831.72 639.06H835.22V631.39H831.72zM840.53 735.49H844.03V634.34H840.53zM849.35 770.58H852.85V635.82H849.35zM858.16 646.14H861.66V636.11H858.16zM866.97 699.22H870.47V636.7H866.97zM875.79 693.03H879.29V637.29H875.79zM884.6 664.72H888.1V637.88H884.6zM893.41 724.29H896.91V637.88H893.41zM902.22 681.23H905.72V639.65H902.22zM911.04 691.55H914.54V640.24H911.04zM919.85 708.07H923.35V640.53H919.85zM928.66 679.76H932.16V641.12H928.66zM937.48 673.56H940.98V642.3H937.48zM946.29 661.77H949.79V643.48H946.29zM955.1 737.56H958.6V645.55H955.1zM963.92 652.62H967.42V647.32H963.92zM972.73 724.29H976.23V651.44H972.73zM981.54 678.28H985.04V652.92H981.54zM990.35 656.75H993.85V653.51H990.35zM999.17 660.88H1002.67V654.1H999.17zM1007.98 660.88H1011.48V655.28H1007.98zM1016.79 675.33H1020.29V659.11H1016.79zM1025.61 709.25H1029.11V660H1025.61zM1034.42 675.92H1037.92V660.88H1034.42zM1043.23 705.41H1046.73V664.42H1043.23zM1060.86 755.54H1064.36V667.96H1060.86zM1069.67 721.04H1073.17V670.91H1069.67zM1078.48 686.83H1081.98V672.97H1078.48zM1087.3 751.12H1090.8V675.33H1087.3zM1096.11 701.28H1099.61V675.33H1096.11zM1104.92 755.54H1108.42V677.4H1104.92zM1113.74 694.8H1117.24V678.58H1113.74zM1122.55 757.31H1126.05V680.93H1122.55zM1131.36 721.63H1134.86V683.59H1131.36zM1140.18 728.71H1143.68V688.6H1140.18zM1148.99 700.99H1152.49V689.78H1148.99zM1166.61 696.56H1170.11V693.62H1166.61zM1175.43 738.44H1178.93V694.21H1175.43zM1184.24 739.62H1187.74V694.8H1184.24zM1193.05 699.22H1196.55V696.56H1193.05zM1201.87 708.66H1205.37V697.45H1201.87zM1210.68 719.27H1214.18V708.66H1210.68zM1219.49 725.46H1222.99V709.25H1219.49zM1228.31 719.27H1231.81V717.21H1228.31zM1237.12 746.99H1240.62V718.09H1237.12zM1245.93 794.18H1249.43V719.27H1245.93zM1254.74 727.53H1258.24V721.63H1254.74zM1263.56 732.25H1267.06V721.63H1263.56zM1272.37 725.46H1275.87V724.88H1272.37zM1281.18 731.36H1284.68V725.46H1281.18zM1290 732.54H1293.5V726.64H1290zM1298.81 740.5H1302.31V726.64H1298.81zM1307.62 740.5H1311.12V730.48H1307.62zM1316.44 732.25H1319.94V730.48H1316.44zM1334.06 751.12H1337.56V733.72H1334.06zM1342.87 794.18H1346.37V735.49H1342.87zM1351.69 772.35H1355.19V742.86H1351.69zM1360.5 751.71H1364V742.86H1360.5zM1369.31 751.12H1372.81V746.7H1369.31zM1378.13 751.12H1381.63V750.53H1378.13zM1386.94 763.21H1390.44V758.79H1386.94z"/>
<rect x="140.3" y="502.3" width="2.6" height="297.7" fill="#000"/>
<rect x="128.4" y="502.35" width="12.9" height="2.7" fill="#000"/>
<rect x="128.4" y="649.8" width="12.9" height="2.7" fill="#000"/>
<rect x="128.4" y="797.25" width="12.9" height="2.7" fill="#000"/>
<rect x="140.3" y="797.1" width="1254.7" height="3" fill="#000"/>
<rect x="140.45" y="798.6" width="3.1" height="11.9" fill="#000"/>
<rect x="149.26" y="798.6" width="3.1" height="11.9" fill="#000"/>
<rect x="158.08" y="798.6" width="3.1" height="11.9" fill="#000"/>
<rect x="166.89" y="798.6" width="3.1" height="11.9" fill="#000"/>
<rect x="175.7" y="798.6" width="3.1" height="11.9" fill="#000"/>
<rect x="184.51" y="798.6" width="3.1" height="11.9" fill="#000"/>
<rect x="193.33" y="798.6" width="3.1" height="11.9" fill="#000"/>
<rect x="202.14" y="798.6" width="3.1" height="11.9" fill="#000"/>
<rect x="210.95" y="798.6" width="3.1" height="11.9" fill="#000"/>
<rect x="219.77" y="798.6" width="3.1" height="11.9" fill="#000"/>
<rect x="228.58" y="798.6" width="3.1" height="11.9" fill="#000"/>
<rect x="237.39" y="798.6" width="3.1" height="11.9" fill="#000"/>
<rect x="246.21" y="798.6" width="3.1" height="11.9" fill="#000"/>
<rect x="255.02" y="798.6" width="3.1" height="11.9" fill="#000"/>
<rect x="263.83" y="798.6" width="3.1" height="11.9" fill="#000"/>
<rect x="272.65" y="798.6" width="3.1" height="11.9" fill="#000"/>
<rect x="281.46" y="798.6" width="3.1" height="11.9" fill="#000"/>
<rect x="290.27" y="798.6" width="3.1" height="11.9" fill="#000"/>
<rect x="299.08" y="798.6" width="3.1" height="11.9" fill="#000"/>
<rect x="307.9" y="798.6" width="3.1" height="11.9" fill="#000"/>
<rect x="316.71" y="798.6" width="3.1" height="11.9" fill="#000"/>
<rect x="325.52" y="798.6" width="3.1" height="11.9" fill="#000"/>
<rect x="334.34" y="798.6" width="3.1" height="11.9" fill="#000"/>
<rect x="343.15" y="798.6" width="3.1" height="11.9" fill="#000"/>
<rect x="351.96" y="798.6" width="3.1" height="11.9" fill="#000"/>
<rect x="360.78" y="798.6" width="3.1" height="11.9" fill="#000"/>
<rect x="369.59" y="798.6" width="3.1" height="11.9" fill="#000"/>
<rect x="378.4" y="798.6" width="3.1" height="11.9" fill="#000"/>
<rect x="387.21" y="798.6" width="3.1" height="11.9" fill="#000"/>
<rect x="396.03" y="798.6" width="3.1" height="11.9" fill="#000"/>
<rect x="404.84" y="798.6" width="3.1" height="11.9" fill="#000"/>
<rect x="413.65" y="798.6" width="3.1" height="11.9" fill="#000"/>
<rect x="422.47" y="798.6" width="3.1" height="11.9" fill="#000"/>
<rect x="431.28" y="798.6" width="3.1" height="11.9" fill="#000"/>
<rect x="440.09" y="798.6" width="3.1" height="11.9" fill="#000"/>
<rect x="448.91" y="798.6" width="3.1" height="11.9" fill="#000"/>
<rect x="457.72" y="798.6" width="3.1" height="11.9" fill="#000"/>
<rect x="466.53" y="798.6" width="3.1" height="11.9" fill="#000"/>
<rect x="475.34" y="798.6" width="3.1" height="11.9" fill="#000"/>
<rect x="484.16" y="798.6" width="3.1" height="11.9" fill="#000"/>
<rect x="492.97" y="798.6" width="3.1" height="11.9" fill="#000"/>
<rect x="501.78" y="798.6" width="3.1" height="11.9" fill="#000"/>
<rect x="510.6" y="798.6" width="3.1" height="11.9" fill="#000"/>
<rect x="519.41" y="798.6" width="3.1" height="11.9" fill="#000"/>
<rect x="528.22" y="798.6" width="3.1" height="11.9" fill="#000"/>
<rect x="537.04" y="798.6" width="3.1" height="11.9" fill="#000"/>
<rect x="545.85" y="798.6" width="3.1" height="11.9" fill="#000"/>
<rect x="554.66" y="798.6" width="3.1" height="11.9" fill="#000"/>
<rect x="563.47" y="798.6" width="3.1" height="11.9" fill="#000"/>
<rect x="572.29" y="798.6" width="3.1" height="11.9" fill="#000"/>
<rect x="581.1" y="798.6" width="3.1" height="11.9" fill="#000"/>
<rect x="589.91" y="798.6" width="3.1" height="11.9" fill="#000"/>
<rect x="598.73" y="798.6" width="3.1" height="11.9" fill="#000"/>
<rect x="607.54" y="798.6" width="3.1" height="11.9" fill="#000"/>
<rect x="616.35" y="798.6" width="3.1" height="11.9" fill="#000"/>
<rect x="625.17" y="798.6" width="3.1" height="11.9" fill="#000"/>
<rect x="633.98" y="798.6" width="3.1" height="11.9" fill="#000"/>
<rect x="642.79" y="798.6" width="3.1" height="11.9" fill="#000"/>
<rect x="651.6" y="798.6" width="3.1" height="11.9" fill="#000"/>
<rect x="660.42" y="798.6" width="3.1" height="11.9" fill="#000"/>
<rect x="669.23" y="798.6" width="3.1" height="11.9" fill="#000"/>
<rect x="678.04" y="798.6" width="3.1" height="11.9" fill="#000"/>
<rect x="686.86" y="798.6" width="3.1" height="11.9" fill="#000"/>
<rect x="695.67" y="798.6" width="3.1" height="11.9" fill="#000"/>
<rect x="704.48" y="798.6" width="3.1" height="11.9" fill="#000"/>
<rect x="713.3" y="798.6" width="3.1" height="11.9" fill="#000"/>
<rect x="722.11" y="798.6" width="3.1" height="11.9" fill="#000"/>
<rect x="730.92" y="798.6" width="3.1" height="11.9" fill="#000"/>
<rect x="739.73" y="798.6" width="3.1" height="11.9" fill="#000"/>
<rect x="748.55" y="798.6" width="3.1" height="11.9" fill="#000"/>
<rect x="757.36" y="798.6" width="3.1" height="11.9" fill="#000"/>
<rect x="766.17" y="798.6" width="3.1" height="11.9" fill="#000"/>
<rect x="774.99" y="798.6" width="3.1" height="11.9" fill="#000"/>
<rect x="783.8" y="798.6" width="3.1" height="11.9" fill="#000"/>
<rect x="792.61" y="798.6" width="3.1" height="11.9" fill="#000"/>
<rect x="801.43" y="798.6" width="3.1" height="11.9" fill="#000"/>
<rect x="810.24" y="798.6" width="3.1" height="11.9" fill="#000"/>
<rect x="819.05" y="798.6" width="3.1" height="11.9" fill="#000"/>
<rect x="827.86" y="798.6" width="3.1" height="11.9" fill="#000"/>
<rect x="836.68" y="798.6" width="3.1" height="11.9" fill="#000"/>
<rect x="845.49" y="798.6" width="3.1" height="11.9" fill="#000"/>
<rect x="854.3" y="798.6" width="3.1" height="11.9" fill="#000"/>
<rect x="863.12" y="798.6" width="3.1" height="11.9" fill="#000"/>
<rect x="871.93" y="798.6" width="3.1" height="11.9" fill="#000"/>
<rect x="880.74" y="798.6" width="3.1" height="11.9" fill="#000"/>
<rect x="889.56" y="798.6" width="3.1" height="11.9" fill="#000"/>
<rect x="898.37" y="798.6" width="3.1" height="11.9" fill="#000"/>
<rect x="907.18" y="798.6" width="3.1" height="11.9" fill="#000"/>
<rect x="915.99" y="798.6" width="3.1" height="11.9" fill="#000"/>
<rect x="924.81" y="798.6" width="3.1" height="11.9" fill="#000"/>
<rect x="933.62" y="798.6" width="3.1" height="11.9" fill="#000"/>
<rect x="942.43" y="798.6" width="3.1" height="11.9" fill="#000"/>
<rect x="951.25" y="798.6" width="3.1" height="11.9" fill="#000"/>
<rect x="960.06" y="798.6" width="3.1" height="11.9" fill="#000"/>
<rect x="968.87" y="798.6" width="3.1" height="11.9" fill="#000"/>
<rect x="977.69" y="798.6" width="3.1" height="11.9" fill="#000"/>
<rect x="986.5" y="798.6" width="3.1" height="11.9" fill="#000"/>
<rect x="995.31" y="798.6" width="3.1" height="11.9" fill="#000"/>
<rect x="1004.12" y="798.6" width="3.1" height="11.9" fill="#000"/>
<rect x="1012.94" y="798.6" width="3.1" height="11.9" fill="#000"/>
<rect x="1021.75" y="798.6" width="3.1" height="11.9" fill="#000"/>
<rect x="1030.56" y="798.6" width="3.1" height="11.9" fill="#000"/>
<rect x="1039.38" y="798.6" width="3.1" height="11.9" fill="#000"/>
<rect x="1048.19" y="798.6" width="3.1" height="11.9" fill="#000"/>
<rect x="1057" y="798.6" width="3.1" height="11.9" fill="#000"/>
<rect x="1065.82" y="798.6" width="3.1" height="11.9" fill="#000"/>
<rect x="1074.63" y="798.6" width="3.1" height="11.9" fill="#000"/>
<rect x="1083.44" y="798.6" width="3.1" height="11.9" fill="#000"/>
<rect x="1092.25" y="798.6" width="3.1" height="11.9" fill="#000"/>
<rect x="1101.07" y="798.6" width="3.1" height="11.9" fill="#000"/>
<rect x="1109.88" y="798.6" width="3.1" height="11.9" fill="#000"/>
<rect x="1118.69" y="798.6" width="3.1" height="11.9" fill="#000"/>
<rect x="1127.51" y="798.6" width="3.1" height="11.9" fill="#000"/>
<rect x="1136.32" y="798.6" width="3.1" height="11.9" fill="#000"/>
<rect x="1145.13" y="798.6" width="3.1" height="11.9" fill="#000"/>
<rect x="1153.95" y="798.6" width="3.1" height="11.9" fill="#000"/>
<rect x="1162.76" y="798.6" width="3.1" height="11.9" fill="#000"/>
<rect x="1171.57" y="798.6" width="3.1" height="11.9" fill="#000"/>
<rect x="1180.38" y="798.6" width="3.1" height="11.9" fill="#000"/>
<rect x="1189.2" y="798.6" width="3.1" height="11.9" fill="#000"/>
<rect x="1198.01" y="798.6" width="3.1" height="11.9" fill="#000"/>
<rect x="1206.82" y="798.6" width="3.1" height="11.9" fill="#000"/>
<rect x="1215.64" y="798.6" width="3.1" height="11.9" fill="#000"/>
<rect x="1224.45" y="798.6" width="3.1" height="11.9" fill="#000"/>
<rect x="1233.26" y="798.6" width="3.1" height="11.9" fill="#000"/>
<rect x="1242.08" y="798.6" width="3.1" height="11.9" fill="#000"/>
<rect x="1250.89" y="798.6" width="3.1" height="11.9" fill="#000"/>
<rect x="1259.7" y="798.6" width="3.1" height="11.9" fill="#000"/>
<rect x="1268.51" y="798.6" width="3.1" height="11.9" fill="#000"/>
<rect x="1277.33" y="798.6" width="3.1" height="11.9" fill="#000"/>
<rect x="1286.14" y="798.6" width="3.1" height="11.9" fill="#000"/>
<rect x="1294.95" y="798.6" width="3.1" height="11.9" fill="#000"/>
<rect x="1303.77" y="798.6" width="3.1" height="11.9" fill="#000"/>
<rect x="1312.58" y="798.6" width="3.1" height="11.9" fill="#000"/>
<rect x="1321.39" y="798.6" width="3.1" height="11.9" fill="#000"/>
<rect x="1330.21" y="798.6" width="3.1" height="11.9" fill="#000"/>
<rect x="1339.02" y="798.6" width="3.1" height="11.9" fill="#000"/>
<rect x="1347.83" y="798.6" width="3.1" height="11.9" fill="#000"/>
<rect x="1356.64" y="798.6" width="3.1" height="11.9" fill="#000"/>
<rect x="1365.46" y="798.6" width="3.1" height="11.9" fill="#000"/>
<rect x="1374.27" y="798.6" width="3.1" height="11.9" fill="#000"/>
<rect x="1383.08" y="798.6" width="3.1" height="11.9" fill="#000"/>
<rect x="1391.9" y="798.6" width="3.1" height="11.9" fill="#000"/>
<text x="114.9" y="515.4" font-size="36.2" font-weight="normal" text-anchor="end">100</text>
<text x="114.9" y="663.45" font-size="36.2" font-weight="normal" text-anchor="end">50</text>
<text x="114.9" y="810.5" font-size="36.2" font-weight="normal" text-anchor="end">0</text>
<text transform="translate(27.6 649.6) rotate(-90)" font-size="35.5" font-weight="bold" text-anchor="middle" textLength="292.5" lengthAdjust="spacingAndGlyphs">Completeness (%)</text>
<text transform="translate(160.27 823.8) rotate(-90)" font-size="36.2" text-anchor="end">1</text>
<text transform="translate(213.14 823.8) rotate(-90)" font-size="36.2" text-anchor="end">7</text>
<text transform="translate(266.02 823.8) rotate(-90)" font-size="36.2" text-anchor="end">13</text>
<text transform="translate(318.9 823.8) rotate(-90)" font-size="36.2" text-anchor="end">19</text>
<text transform="translate(371.78 823.8) rotate(-90)" font-size="36.2" text-anchor="end">25</text>
<text transform="translate(424.66 823.8) rotate(-90)" font-size="36.2" text-anchor="end">31</text>
<text transform="translate(477.53 823.8) rotate(-90)" font-size="36.2" text-anchor="end">37</text>
<text transform="translate(530.41 823.8) rotate(-90)" font-size="36.2" text-anchor="end">43</text>
<text transform="translate(583.29 823.8) rotate(-90)" font-size="36.2" text-anchor="end">49</text>
<text transform="translate(636.17 823.8) rotate(-90)" font-size="36.2" text-anchor="end">55</text>
<text transform="translate(689.05 823.8) rotate(-90)" font-size="36.2" text-anchor="end">61</text>
<text transform="translate(741.92 823.8) rotate(-90)" font-size="36.2" text-anchor="end">67</text>
<text transform="translate(794.8 823.8) rotate(-90)" font-size="36.2" text-anchor="end">73</text>
<text transform="translate(847.68 823.8) rotate(-90)" font-size="36.2" text-anchor="end">79</text>
<text transform="translate(900.56 823.8) rotate(-90)" font-size="36.2" text-anchor="end">85</text>
<text transform="translate(953.44 823.8) rotate(-90)" font-size="36.2" text-anchor="end">91</text>
<text transform="translate(1006.31 823.8) rotate(-90)" font-size="36.2" text-anchor="end">97</text>
<text transform="translate(1059.19 823.8) rotate(-90)" font-size="36.2" text-anchor="end">103</text>
<text transform="translate(1112.07 823.8) rotate(-90)" font-size="36.2" text-anchor="end">109</text>
<text transform="translate(1164.95 823.8) rotate(-90)" font-size="36.2" text-anchor="end">115</text>
<text transform="translate(1217.83 823.8) rotate(-90)" font-size="36.2" text-anchor="end">121</text>
<text transform="translate(1270.7 823.8) rotate(-90)" font-size="36.2" text-anchor="end">127</text>
<text transform="translate(1323.58 823.8) rotate(-90)" font-size="36.2" text-anchor="end">133</text>
<text transform="translate(1376.46 823.8) rotate(-90)" font-size="36.2" text-anchor="end">139</text>
<text x="755.5" y="918.4" font-size="35" font-weight="bold" text-anchor="middle" textLength="133" lengthAdjust="spacingAndGlyphs">Stations</text>
<text x="1057.6" y="553.4" font-size="37.3" font-weight="bold" text-anchor="start" textLength="21.5" lengthAdjust="spacingAndGlyphs">T</text>
<text x="1077.6" y="563.8" font-size="27" font-weight="bold" text-anchor="start" textLength="47.5" lengthAdjust="spacingAndGlyphs">max</text>
<rect x="1183.3" y="501" width="21.8" height="21.6" fill="#C00000"/>
<rect x="1183.3" y="545.6" width="21.8" height="21.6" fill="#000"/>
<text x="1213.3" y="522.5" font-size="34.5" font-weight="normal" text-anchor="start" textLength="85.5" lengthAdjust="spacingAndGlyphs">Filled</text>
<text x="1213.3" y="567.4" font-size="34.5" font-weight="normal" text-anchor="start" textLength="155" lengthAdjust="spacingAndGlyphs">Observed</text>
<path fill="#000" d="M143.25 1268.3H146.75V976.25H143.25zM152.06 1268.3H155.56V993.8H152.06zM160.88 1268.3H164.38V1066.07H160.88zM169.69 1268.3H173.19V1115.44H169.69zM178.5 1268.3H182V1158.86H178.5zM187.31 1268.3H190.81V1144.58H187.31zM196.12 1268.3H199.62V1191.57H196.12zM204.93 1268.3H208.43V1096.7H204.93zM213.74 1268.3H217.24V1023.24H213.74zM222.55 1268.3H226.05V1088.37H222.55zM231.36 1268.3H234.86V984.88H231.36zM240.17 1268.3H243.67V986.96H240.17zM248.97 1268.3H252.47V1203.47H248.97zM257.78 1268.3H261.28V991.42H257.78zM266.6 1268.3H270.1V989.64H266.6zM275.4 1268.3H278.9V1163.02H275.4zM284.22 1268.3H287.72V992.91H284.22zM293.02 1268.3H296.52V1215.66H293.02zM301.84 1268.3H305.34V983.99H301.84zM310.64 1268.3H314.14V1029.79H310.64zM319.46 1268.3H322.96V1214.17H319.46zM328.26 1268.3H331.76V1132.69H328.26zM337.08 1268.3H340.58V994.69H337.08zM345.88 1268.3H349.38V1202.28H345.88zM354.69 1268.3H358.19V998.26H354.69zM363.5 1268.3H367V1182.35H363.5zM372.31 1268.3H375.81V1003.61H372.31zM381.12 1268.3H384.62V1064.28H381.12zM389.94 1268.3H393.44V1105.62H389.94zM398.75 1268.3H402.25V1163.91H398.75zM407.56 1268.3H411.06V1058.34H407.56zM416.37 1268.3H419.87V1207.93H416.37zM425.17 1268.3H428.67V1122.57H425.17zM433.99 1268.3H437.49V1205.25H433.99zM442.79 1268.3H446.29V1192.76H442.79zM451.61 1268.3H455.11V1207.04H451.61zM460.41 1268.3H463.91V1230.83H460.41zM469.23 1268.3H472.73V1047.03H469.23zM478.03 1268.3H481.53V1068.45H478.03zM486.85 1268.3H490.35V1137.44H486.85zM495.65 1268.3H499.15V1196.92H495.65zM504.47 1268.3H507.97V1022.65H504.47zM513.27 1268.3H516.77V1199.6H513.27zM522.09 1268.3H525.59V1199.6H522.09zM530.89 1268.3H534.39V1060.12H530.89zM539.71 1268.3H543.21V1208.52H539.71zM548.51 1268.3H552.01V1193.95H548.51zM557.33 1268.3H560.83V1066.37H557.33zM566.13 1268.3H569.63V1091.64H566.13zM574.95 1268.3H578.45V1113.65H574.95zM583.75 1268.3H587.25V1176.7H583.75zM592.57 1268.3H596.07V1128.52H592.57zM601.38 1268.3H604.88V1231.12H601.38zM610.19 1268.3H613.69V1180.86H610.19zM619 1268.3H622.5V1168.97H619zM627.81 1268.3H631.31V1168.97H627.81zM636.62 1268.3H640.12V1136.55H636.62zM645.43 1268.3H648.93V1092.24H645.43zM654.24 1268.3H657.74V1148.75H654.24zM663.05 1268.3H666.55V1210.6H663.05zM671.86 1268.3H675.36V1221.91H671.86zM680.67 1268.3H684.17V1090.45H680.67zM689.48 1268.3H692.98V1143.09H689.48zM698.29 1268.3H701.79V1192.76H698.29zM707.1 1268.3H710.6V1212.98H707.1zM715.91 1268.3H719.41V1208.82H715.91zM724.72 1268.3H728.22V1158.86H724.72zM733.53 1268.3H737.03V1205.85H733.53zM742.34 1268.3H745.84V1066.96H742.34zM751.15 1268.3H754.65V1206.14H751.15zM759.96 1268.3H763.46V1155.29H759.96zM768.77 1268.3H772.27V1138.93H768.77zM777.58 1268.3H781.08V1200.79H777.58zM786.39 1268.3H789.89V1074.4H786.39zM795.2 1268.3H798.7V1209.12H795.2zM804.01 1268.3H807.51V1170.46H804.01zM812.82 1268.3H816.32V1216.85H812.82zM821.63 1268.3H825.13V1130.01H821.63zM830.44 1268.3H833.94V1216.25H830.44zM839.25 1268.3H842.75V1154.99H839.25zM848.06 1268.3H851.56V1098.48H848.06zM856.87 1268.3H860.37V1120.79H856.87zM865.68 1268.3H869.18V1143.39H865.68zM874.49 1268.3H877.99V1092.24H874.49zM883.3 1268.3H886.8V1173.73H883.3zM892.11 1268.3H895.61V1199.6H892.11zM900.92 1268.3H904.42V1169.86H900.92zM909.73 1268.3H913.23V1118.71H909.73zM918.54 1268.3H922.04V1247.48H918.54zM927.35 1268.3H930.85V1216.85H927.35zM936.16 1268.3H939.66V1174.92H936.16zM944.97 1268.3H948.47V1228.15H944.97zM953.78 1268.3H957.28V1221.31H953.78zM962.59 1268.3H966.09V1237.37H962.59zM971.4 1268.3H974.9V1158.26H971.4zM980.21 1268.3H983.71V1140.42H980.21zM989.02 1268.3H992.52V1213.58H989.02zM997.83 1268.3H1001.33V1099.67H997.83zM1006.64 1268.3H1010.14V1102.05H1006.64zM1015.45 1268.3H1018.95V1199.6H1015.45zM1024.26 1268.3H1027.76V1147.56H1024.26zM1033.07 1268.3H1036.57V1210.01H1033.07zM1041.88 1268.3H1045.38V1208.82H1041.88zM1050.68 1268.3H1054.18V1223.69H1050.68zM1059.5 1268.3H1063V1204.66H1059.5zM1068.31 1268.3H1071.81V1208.82H1068.31zM1077.12 1268.3H1080.62V1223.69H1077.12zM1085.92 1268.3H1089.42V1216.25H1085.92zM1094.74 1268.3H1098.24V1118.11H1094.74zM1103.55 1268.3H1107.05V1208.82H1103.55zM1112.36 1268.3H1115.86V1124.06H1112.36zM1121.16 1268.3H1124.66V1218.93H1121.16zM1129.97 1268.3H1133.47V1125.55H1129.97zM1138.79 1268.3H1142.29V1223.39H1138.79zM1147.6 1268.3H1151.1V1125.55H1147.6zM1156.4 1268.3H1159.9V1215.96H1156.4zM1165.21 1268.3H1168.71V1207.33H1165.21zM1174.02 1268.3H1177.52V1134.77H1174.02zM1182.84 1268.3H1186.34V1142.5H1182.84zM1191.64 1268.3H1195.14V1139.82H1191.64zM1200.45 1268.3H1203.95V1263.24H1200.45zM1209.26 1268.3H1212.76V1147.85H1209.26zM1218.08 1268.3H1221.58V1185.33H1218.08zM1226.88 1268.3H1230.38V1152.02H1226.88zM1235.69 1268.3H1239.19V1206.74H1235.69zM1244.5 1268.3H1248V1199.01H1244.5zM1253.32 1268.3H1256.82V1185.62H1253.32zM1262.12 1268.3H1265.62V1253.13H1262.12zM1270.93 1268.3H1274.43V1248.08H1270.93zM1279.74 1268.3H1283.24V1252.84H1279.74zM1288.56 1268.3H1292.06V1247.48H1288.56zM1297.37 1268.3H1300.87V1204.36H1297.37zM1306.17 1268.3H1309.67V1263.24H1306.17zM1314.98 1268.3H1318.48V1263.24H1314.98zM1323.8 1268.3H1327.3V1206.14H1323.8zM1332.61 1268.3H1336.11V1217.74H1332.61zM1341.41 1268.3H1344.91V1220.72H1341.41zM1350.22 1268.3H1353.72V1202.57H1350.22zM1359.04 1268.3H1362.54V1203.47H1359.04zM1367.85 1268.3H1371.35V1210.6H1367.85zM1376.65 1268.3H1380.15V1210.01H1376.65zM1385.46 1268.3H1388.96V1240.94H1385.46z"/>
<path fill="#BA0000" d="M143.25 976.25H146.75V971.49H143.25zM152.06 993.8H155.56V971.49H152.06zM160.88 1066.07H164.38V971.49H160.88zM169.69 1115.44H173.19V971.49H169.69zM178.5 1158.86H182V971.49H178.5zM187.31 1144.58H190.81V971.49H187.31zM196.12 1191.57H199.62V971.49H196.12zM204.93 1096.7H208.43V971.49H204.93zM213.74 1023.24H217.24V971.79H213.74zM222.55 1088.37H226.05V972.39H222.55zM231.36 984.88H234.86V972.39H231.36zM240.17 986.96H243.67V973.28H240.17zM248.97 1203.47H252.47V973.28H248.97zM257.78 991.42H261.28V977.15H257.78zM266.6 989.64H270.1V977.74H266.6zM275.4 1163.02H278.9V977.74H275.4zM284.22 992.91H287.72V978.63H284.22zM293.02 1215.66H296.52V979.23H293.02zM301.84 983.99H305.34V981.9H301.84zM310.64 1029.79H314.14V985.18H310.64zM319.46 1214.17H322.96V986.36H319.46zM328.26 1132.69H331.76V988.15H328.26zM337.08 994.69H340.58V990.23H337.08zM345.88 1202.28H349.38V992.31H345.88zM354.69 998.26H358.19V993.2H354.69zM363.5 1182.35H367V994.1H363.5zM372.31 1003.61H375.81V996.48H372.31zM381.12 1064.28H384.62V997.96H381.12zM389.94 1105.62H393.44V999.15H389.94zM398.75 1163.91H402.25V1001.23H398.75zM407.56 1058.34H411.06V1004.8H407.56zM416.37 1207.93H419.87V1006.29H416.37zM425.17 1122.57H428.67V1015.21H425.17zM433.99 1205.25H437.49V1015.51H433.99zM442.79 1192.76H446.29V1016.4H442.79zM451.61 1207.04H455.11V1017H451.61zM460.41 1230.83H463.91V1017.89H460.41zM469.23 1047.03H472.73V1018.78H469.23zM478.03 1068.45H481.53V1019.67H478.03zM486.85 1137.44H490.35V1020.86H486.85zM495.65 1196.92H499.15V1022.35H495.65zM513.27 1199.6H516.77V1024.43H513.27zM522.09 1199.6H525.59V1025.92H522.09zM530.89 1060.12H534.39V1027.7H530.89zM539.71 1208.52H543.21V1030.38H539.71zM548.51 1193.95H552.01V1038.71H548.51zM557.33 1066.37H560.83V1038.71H557.33zM566.13 1091.64H569.63V1040.19H566.13zM574.95 1113.65H578.45V1040.49H574.95zM583.75 1176.7H587.25V1041.38H583.75zM592.57 1128.52H596.07V1041.38H592.57zM601.38 1231.12H604.88V1046.14H601.38zM610.19 1180.86H613.69V1046.74H610.19zM619 1168.97H622.5V1046.74H619zM627.81 1168.97H631.31V1047.63H627.81zM636.62 1136.55H640.12V1049.41H636.62zM645.43 1092.24H648.93V1050.9H645.43zM654.24 1148.75H657.74V1052.09H654.24zM663.05 1210.6H666.55V1053.58H663.05zM671.86 1221.91H675.36V1054.47H671.86zM680.67 1090.45H684.17V1056.25H680.67zM689.48 1143.09H692.98V1058.04H689.48zM698.29 1192.76H701.79V1061.01H698.29zM707.1 1212.98H710.6V1063.99H707.1zM715.91 1208.82H719.41V1064.88H715.91zM724.72 1158.86H728.22V1065.18H724.72zM733.53 1205.85H737.03V1065.18H733.53zM751.15 1206.14H754.65V1067.26H751.15zM759.96 1155.29H763.46V1068.45H759.96zM768.77 1138.93H772.27V1070.83H768.77zM777.58 1200.79H781.08V1071.72H777.58zM795.2 1209.12H798.7V1076.18H795.2zM804.01 1170.46H807.51V1077.37H804.01zM812.82 1216.85H816.32V1081.53H812.82zM821.63 1130.01H825.13V1082.42H821.63zM830.44 1216.25H833.94V1082.42H830.44zM839.25 1154.99H842.75V1083.02H839.25zM848.06 1098.48H851.56V1083.02H848.06zM856.87 1120.79H860.37V1084.8H856.87zM865.68 1143.39H869.18V1084.8H865.68zM874.49 1092.24H877.99V1085.1H874.49zM883.3 1173.73H886.8V1085.99H883.3zM892.11 1199.6H895.61V1087.48H892.11zM900.92 1169.86H904.42V1090.16H900.92zM909.73 1118.71H913.23V1090.16H909.73zM918.54 1247.48H922.04V1090.45H918.54zM927.35 1216.85H930.85V1091.64H927.35zM936.16 1174.92H939.66V1092.24H936.16zM944.97 1228.15H948.47V1092.24H944.97zM953.78 1221.31H957.28V1094.02H953.78zM962.59 1237.37H966.09V1096.7H962.59zM971.4 1158.26H974.9V1097.3H971.4zM980.21 1140.42H983.71V1097.89H980.21zM989.02 1213.58H992.52V1098.48H989.02zM1015.45 1199.6H1018.95V1102.05H1015.45zM1024.26 1147.56H1027.76V1103.54H1024.26zM1033.07 1210.01H1036.57V1105.32H1033.07zM1041.88 1208.82H1045.38V1105.32H1041.88zM1050.68 1223.69H1054.18V1106.51H1050.68zM1059.5 1204.66H1063V1107.41H1059.5zM1068.31 1208.82H1071.81V1110.08H1068.31zM1077.12 1223.69H1080.62V1110.08H1077.12zM1085.92 1216.25H1089.42V1116.33H1085.92zM1103.55 1208.82H1107.05V1118.11H1103.55zM1112.36 1124.06H1115.86V1118.71H1112.36zM1121.16 1218.93H1124.66V1120.19H1121.16zM1129.97 1125.55H1133.47V1123.76H1129.97zM1138.79 1223.39H1142.29V1123.76H1138.79zM1156.4 1215.96H1159.9V1125.85H1156.4zM1165.21 1207.33H1168.71V1128.82H1165.21zM1174.02 1134.77H1177.52V1129.41H1174.02zM1182.84 1142.5H1186.34V1130.01H1182.84zM1191.64 1139.82H1195.14V1130.6H1191.64zM1200.45 1263.24H1203.95V1132.98H1200.45zM1209.26 1147.85H1212.76V1135.36H1209.26zM1218.08 1185.33H1221.58V1143.69H1218.08zM1226.88 1152.02H1230.38V1147.56H1226.88zM1235.69 1206.74H1239.19V1148.75H1235.69zM1244.5 1199.01H1248V1149.64H1244.5zM1253.32 1185.62H1256.82V1154.1H1253.32zM1262.12 1253.13H1265.62V1155.88H1262.12zM1270.93 1248.08H1274.43V1157.67H1270.93zM1279.74 1252.84H1283.24V1159.75H1279.74zM1288.56 1247.48H1292.06V1163.91H1288.56zM1297.37 1204.36H1300.87V1176.11H1297.37zM1306.17 1263.24H1309.67V1194.54H1306.17zM1314.98 1263.24H1318.48V1196.33H1314.98zM1323.8 1206.14H1327.3V1199.6H1323.8zM1332.61 1217.74H1336.11V1199.6H1332.61zM1341.41 1220.72H1344.91V1199.6H1341.41zM1367.85 1210.6H1371.35V1204.06H1367.85zM1376.65 1210.01H1380.15V1209.71H1376.65zM1385.46 1240.94H1388.96V1227.56H1385.46z"/>
<rect x="140.1" y="969.5" width="2.6" height="300.2" fill="#000"/>
<rect x="128.4" y="969.55" width="12.7" height="2.7" fill="#000"/>
<rect x="128.4" y="1118.25" width="12.7" height="2.7" fill="#000"/>
<rect x="128.4" y="1266.95" width="12.7" height="2.7" fill="#000"/>
<rect x="140.1" y="1266.8" width="1253.02" height="3" fill="#000"/>
<rect x="139.05" y="1268.3" width="3.1" height="12.2" fill="#000"/>
<rect x="147.86" y="1268.3" width="3.1" height="12.2" fill="#000"/>
<rect x="156.67" y="1268.3" width="3.1" height="12.2" fill="#000"/>
<rect x="165.48" y="1268.3" width="3.1" height="12.2" fill="#000"/>
<rect x="174.29" y="1268.3" width="3.1" height="12.2" fill="#000"/>
<rect x="183.1" y="1268.3" width="3.1" height="12.2" fill="#000"/>
<rect x="191.91" y="1268.3" width="3.1" height="12.2" fill="#000"/>
<rect x="200.72" y="1268.3" width="3.1" height="12.2" fill="#000"/>
<rect x="209.53" y="1268.3" width="3.1" height="12.2" fill="#000"/>
<rect x="218.34" y="1268.3" width="3.1" height="12.2" fill="#000"/>
<rect x="227.15" y="1268.3" width="3.1" height="12.2" fill="#000"/>
<rect x="235.96" y="1268.3" width="3.1" height="12.2" fill="#000"/>
<rect x="244.77" y="1268.3" width="3.1" height="12.2" fill="#000"/>
<rect x="253.58" y="1268.3" width="3.1" height="12.2" fill="#000"/>
<rect x="262.39" y="1268.3" width="3.1" height="12.2" fill="#000"/>
<rect x="271.2" y="1268.3" width="3.1" height="12.2" fill="#000"/>
<rect x="280.01" y="1268.3" width="3.1" height="12.2" fill="#000"/>
<rect x="288.82" y="1268.3" width="3.1" height="12.2" fill="#000"/>
<rect x="297.63" y="1268.3" width="3.1" height="12.2" fill="#000"/>
<rect x="306.44" y="1268.3" width="3.1" height="12.2" fill="#000"/>
<rect x="315.25" y="1268.3" width="3.1" height="12.2" fill="#000"/>
<rect x="324.06" y="1268.3" width="3.1" height="12.2" fill="#000"/>
<rect x="332.87" y="1268.3" width="3.1" height="12.2" fill="#000"/>
<rect x="341.68" y="1268.3" width="3.1" height="12.2" fill="#000"/>
<rect x="350.49" y="1268.3" width="3.1" height="12.2" fill="#000"/>
<rect x="359.3" y="1268.3" width="3.1" height="12.2" fill="#000"/>
<rect x="368.11" y="1268.3" width="3.1" height="12.2" fill="#000"/>
<rect x="376.92" y="1268.3" width="3.1" height="12.2" fill="#000"/>
<rect x="385.73" y="1268.3" width="3.1" height="12.2" fill="#000"/>
<rect x="394.54" y="1268.3" width="3.1" height="12.2" fill="#000"/>
<rect x="403.35" y="1268.3" width="3.1" height="12.2" fill="#000"/>
<rect x="412.16" y="1268.3" width="3.1" height="12.2" fill="#000"/>
<rect x="420.97" y="1268.3" width="3.1" height="12.2" fill="#000"/>
<rect x="429.78" y="1268.3" width="3.1" height="12.2" fill="#000"/>
<rect x="438.59" y="1268.3" width="3.1" height="12.2" fill="#000"/>
<rect x="447.4" y="1268.3" width="3.1" height="12.2" fill="#000"/>
<rect x="456.21" y="1268.3" width="3.1" height="12.2" fill="#000"/>
<rect x="465.02" y="1268.3" width="3.1" height="12.2" fill="#000"/>
<rect x="473.83" y="1268.3" width="3.1" height="12.2" fill="#000"/>
<rect x="482.64" y="1268.3" width="3.1" height="12.2" fill="#000"/>
<rect x="491.45" y="1268.3" width="3.1" height="12.2" fill="#000"/>
<rect x="500.26" y="1268.3" width="3.1" height="12.2" fill="#000"/>
<rect x="509.07" y="1268.3" width="3.1" height="12.2" fill="#000"/>
<rect x="517.88" y="1268.3" width="3.1" height="12.2" fill="#000"/>
<rect x="526.69" y="1268.3" width="3.1" height="12.2" fill="#000"/>
<rect x="535.5" y="1268.3" width="3.1" height="12.2" fill="#000"/>
<rect x="544.31" y="1268.3" width="3.1" height="12.2" fill="#000"/>
<rect x="553.12" y="1268.3" width="3.1" height="12.2" fill="#000"/>
<rect x="561.93" y="1268.3" width="3.1" height="12.2" fill="#000"/>
<rect x="570.74" y="1268.3" width="3.1" height="12.2" fill="#000"/>
<rect x="579.55" y="1268.3" width="3.1" height="12.2" fill="#000"/>
<rect x="588.36" y="1268.3" width="3.1" height="12.2" fill="#000"/>
<rect x="597.17" y="1268.3" width="3.1" height="12.2" fill="#000"/>
<rect x="605.98" y="1268.3" width="3.1" height="12.2" fill="#000"/>
<rect x="614.79" y="1268.3" width="3.1" height="12.2" fill="#000"/>
<rect x="623.6" y="1268.3" width="3.1" height="12.2" fill="#000"/>
<rect x="632.41" y="1268.3" width="3.1" height="12.2" fill="#000"/>
<rect x="641.22" y="1268.3" width="3.1" height="12.2" fill="#000"/>
<rect x="650.03" y="1268.3" width="3.1" height="12.2" fill="#000"/>
<rect x="658.84" y="1268.3" width="3.1" height="12.2" fill="#000"/>
<rect x="667.65" y="1268.3" width="3.1" height="12.2" fill="#000"/>
<rect x="676.46" y="1268.3" width="3.1" height="12.2" fill="#000"/>
<rect x="685.27" y="1268.3" width="3.1" height="12.2" fill="#000"/>
<rect x="694.08" y="1268.3" width="3.1" height="12.2" fill="#000"/>
<rect x="702.89" y="1268.3" width="3.1" height="12.2" fill="#000"/>
<rect x="711.7" y="1268.3" width="3.1" height="12.2" fill="#000"/>
<rect x="720.51" y="1268.3" width="3.1" height="12.2" fill="#000"/>
<rect x="729.32" y="1268.3" width="3.1" height="12.2" fill="#000"/>
<rect x="738.13" y="1268.3" width="3.1" height="12.2" fill="#000"/>
<rect x="746.94" y="1268.3" width="3.1" height="12.2" fill="#000"/>
<rect x="755.75" y="1268.3" width="3.1" height="12.2" fill="#000"/>
<rect x="764.56" y="1268.3" width="3.1" height="12.2" fill="#000"/>
<rect x="773.37" y="1268.3" width="3.1" height="12.2" fill="#000"/>
<rect x="782.18" y="1268.3" width="3.1" height="12.2" fill="#000"/>
<rect x="790.99" y="1268.3" width="3.1" height="12.2" fill="#000"/>
<rect x="799.8" y="1268.3" width="3.1" height="12.2" fill="#000"/>
<rect x="808.61" y="1268.3" width="3.1" height="12.2" fill="#000"/>
<rect x="817.42" y="1268.3" width="3.1" height="12.2" fill="#000"/>
<rect x="826.23" y="1268.3" width="3.1" height="12.2" fill="#000"/>
<rect x="835.04" y="1268.3" width="3.1" height="12.2" fill="#000"/>
<rect x="843.85" y="1268.3" width="3.1" height="12.2" fill="#000"/>
<rect x="852.66" y="1268.3" width="3.1" height="12.2" fill="#000"/>
<rect x="861.47" y="1268.3" width="3.1" height="12.2" fill="#000"/>
<rect x="870.28" y="1268.3" width="3.1" height="12.2" fill="#000"/>
<rect x="879.09" y="1268.3" width="3.1" height="12.2" fill="#000"/>
<rect x="887.9" y="1268.3" width="3.1" height="12.2" fill="#000"/>
<rect x="896.71" y="1268.3" width="3.1" height="12.2" fill="#000"/>
<rect x="905.52" y="1268.3" width="3.1" height="12.2" fill="#000"/>
<rect x="914.33" y="1268.3" width="3.1" height="12.2" fill="#000"/>
<rect x="923.14" y="1268.3" width="3.1" height="12.2" fill="#000"/>
<rect x="931.95" y="1268.3" width="3.1" height="12.2" fill="#000"/>
<rect x="940.76" y="1268.3" width="3.1" height="12.2" fill="#000"/>
<rect x="949.57" y="1268.3" width="3.1" height="12.2" fill="#000"/>
<rect x="958.38" y="1268.3" width="3.1" height="12.2" fill="#000"/>
<rect x="967.19" y="1268.3" width="3.1" height="12.2" fill="#000"/>
<rect x="976" y="1268.3" width="3.1" height="12.2" fill="#000"/>
<rect x="984.81" y="1268.3" width="3.1" height="12.2" fill="#000"/>
<rect x="993.62" y="1268.3" width="3.1" height="12.2" fill="#000"/>
<rect x="1002.43" y="1268.3" width="3.1" height="12.2" fill="#000"/>
<rect x="1011.24" y="1268.3" width="3.1" height="12.2" fill="#000"/>
<rect x="1020.05" y="1268.3" width="3.1" height="12.2" fill="#000"/>
<rect x="1028.86" y="1268.3" width="3.1" height="12.2" fill="#000"/>
<rect x="1037.67" y="1268.3" width="3.1" height="12.2" fill="#000"/>
<rect x="1046.48" y="1268.3" width="3.1" height="12.2" fill="#000"/>
<rect x="1055.29" y="1268.3" width="3.1" height="12.2" fill="#000"/>
<rect x="1064.1" y="1268.3" width="3.1" height="12.2" fill="#000"/>
<rect x="1072.91" y="1268.3" width="3.1" height="12.2" fill="#000"/>
<rect x="1081.72" y="1268.3" width="3.1" height="12.2" fill="#000"/>
<rect x="1090.53" y="1268.3" width="3.1" height="12.2" fill="#000"/>
<rect x="1099.34" y="1268.3" width="3.1" height="12.2" fill="#000"/>
<rect x="1108.15" y="1268.3" width="3.1" height="12.2" fill="#000"/>
<rect x="1116.96" y="1268.3" width="3.1" height="12.2" fill="#000"/>
<rect x="1125.77" y="1268.3" width="3.1" height="12.2" fill="#000"/>
<rect x="1134.58" y="1268.3" width="3.1" height="12.2" fill="#000"/>
<rect x="1143.39" y="1268.3" width="3.1" height="12.2" fill="#000"/>
<rect x="1152.2" y="1268.3" width="3.1" height="12.2" fill="#000"/>
<rect x="1161.01" y="1268.3" width="3.1" height="12.2" fill="#000"/>
<rect x="1169.82" y="1268.3" width="3.1" height="12.2" fill="#000"/>
<rect x="1178.63" y="1268.3" width="3.1" height="12.2" fill="#000"/>
<rect x="1187.44" y="1268.3" width="3.1" height="12.2" fill="#000"/>
<rect x="1196.25" y="1268.3" width="3.1" height="12.2" fill="#000"/>
<rect x="1205.06" y="1268.3" width="3.1" height="12.2" fill="#000"/>
<rect x="1213.87" y="1268.3" width="3.1" height="12.2" fill="#000"/>
<rect x="1222.68" y="1268.3" width="3.1" height="12.2" fill="#000"/>
<rect x="1231.49" y="1268.3" width="3.1" height="12.2" fill="#000"/>
<rect x="1240.3" y="1268.3" width="3.1" height="12.2" fill="#000"/>
<rect x="1249.11" y="1268.3" width="3.1" height="12.2" fill="#000"/>
<rect x="1257.92" y="1268.3" width="3.1" height="12.2" fill="#000"/>
<rect x="1266.73" y="1268.3" width="3.1" height="12.2" fill="#000"/>
<rect x="1275.54" y="1268.3" width="3.1" height="12.2" fill="#000"/>
<rect x="1284.35" y="1268.3" width="3.1" height="12.2" fill="#000"/>
<rect x="1293.16" y="1268.3" width="3.1" height="12.2" fill="#000"/>
<rect x="1301.97" y="1268.3" width="3.1" height="12.2" fill="#000"/>
<rect x="1310.78" y="1268.3" width="3.1" height="12.2" fill="#000"/>
<rect x="1319.59" y="1268.3" width="3.1" height="12.2" fill="#000"/>
<rect x="1328.4" y="1268.3" width="3.1" height="12.2" fill="#000"/>
<rect x="1337.21" y="1268.3" width="3.1" height="12.2" fill="#000"/>
<rect x="1346.02" y="1268.3" width="3.1" height="12.2" fill="#000"/>
<rect x="1354.83" y="1268.3" width="3.1" height="12.2" fill="#000"/>
<rect x="1363.64" y="1268.3" width="3.1" height="12.2" fill="#000"/>
<rect x="1372.45" y="1268.3" width="3.1" height="12.2" fill="#000"/>
<rect x="1381.26" y="1268.3" width="3.1" height="12.2" fill="#000"/>
<rect x="1390.07" y="1268.3" width="3.1" height="12.2" fill="#000"/>
<text x="114.9" y="983.8" font-size="36.2" font-weight="normal" text-anchor="end">100</text>
<text x="114.9" y="1132.5" font-size="36.2" font-weight="normal" text-anchor="end">50</text>
<text x="114.9" y="1281.2" font-size="36.2" font-weight="normal" text-anchor="end">0</text>
<text transform="translate(27.6 1118) rotate(-90)" font-size="35.5" font-weight="bold" text-anchor="middle" textLength="292.5" lengthAdjust="spacingAndGlyphs">Completeness (%)</text>
<text transform="translate(159.97 1295.2) rotate(-90)" font-size="36.2" text-anchor="end">1</text>
<text transform="translate(212.84 1295.2) rotate(-90)" font-size="36.2" text-anchor="end">7</text>
<text transform="translate(265.72 1295.2) rotate(-90)" font-size="36.2" text-anchor="end">13</text>
<text transform="translate(318.6 1295.2) rotate(-90)" font-size="36.2" text-anchor="end">19</text>
<text transform="translate(371.48 1295.2) rotate(-90)" font-size="36.2" text-anchor="end">25</text>
<text transform="translate(424.36 1295.2) rotate(-90)" font-size="36.2" text-anchor="end">31</text>
<text transform="translate(477.23 1295.2) rotate(-90)" font-size="36.2" text-anchor="end">37</text>
<text transform="translate(530.11 1295.2) rotate(-90)" font-size="36.2" text-anchor="end">43</text>
<text transform="translate(582.99 1295.2) rotate(-90)" font-size="36.2" text-anchor="end">49</text>
<text transform="translate(635.87 1295.2) rotate(-90)" font-size="36.2" text-anchor="end">55</text>
<text transform="translate(688.75 1295.2) rotate(-90)" font-size="36.2" text-anchor="end">61</text>
<text transform="translate(741.62 1295.2) rotate(-90)" font-size="36.2" text-anchor="end">67</text>
<text transform="translate(794.5 1295.2) rotate(-90)" font-size="36.2" text-anchor="end">73</text>
<text transform="translate(847.38 1295.2) rotate(-90)" font-size="36.2" text-anchor="end">79</text>
<text transform="translate(900.26 1295.2) rotate(-90)" font-size="36.2" text-anchor="end">85</text>
<text transform="translate(953.14 1295.2) rotate(-90)" font-size="36.2" text-anchor="end">91</text>
<text transform="translate(1006.01 1295.2) rotate(-90)" font-size="36.2" text-anchor="end">97</text>
<text transform="translate(1058.89 1295.2) rotate(-90)" font-size="36.2" text-anchor="end">103</text>
<text transform="translate(1111.77 1295.2) rotate(-90)" font-size="36.2" text-anchor="end">109</text>
<text transform="translate(1164.65 1295.2) rotate(-90)" font-size="36.2" text-anchor="end">115</text>
<text transform="translate(1217.53 1295.2) rotate(-90)" font-size="36.2" text-anchor="end">121</text>
<text transform="translate(1270.4 1295.2) rotate(-90)" font-size="36.2" text-anchor="end">127</text>
<text transform="translate(1323.28 1295.2) rotate(-90)" font-size="36.2" text-anchor="end">133</text>
<text transform="translate(1376.16 1295.2) rotate(-90)" font-size="36.2" text-anchor="end">139</text>
<text x="767" y="1391.3" font-size="35" font-weight="bold" text-anchor="middle" textLength="133" lengthAdjust="spacingAndGlyphs">Stations</text>
<text x="1082.4" y="1016.4" font-size="37.3" font-weight="bold" text-anchor="start" textLength="21.5" lengthAdjust="spacingAndGlyphs">T</text>
<text x="1101.2" y="1026.4" font-size="27" font-weight="bold" text-anchor="start" textLength="43" lengthAdjust="spacingAndGlyphs">min</text>
<rect x="1205.2" y="971.1" width="21.8" height="21.6" fill="#C00000"/>
<rect x="1205.2" y="1015" width="21.8" height="21.6" fill="#000"/>
<text x="1235.8" y="992.8" font-size="34.5" font-weight="normal" text-anchor="start" textLength="85.5" lengthAdjust="spacingAndGlyphs">Filled</text>
<text x="1235.8" y="1037.5" font-size="34.5" font-weight="normal" text-anchor="start" textLength="155" lengthAdjust="spacingAndGlyphs">Observed</text>
</svg>
</body></html>
